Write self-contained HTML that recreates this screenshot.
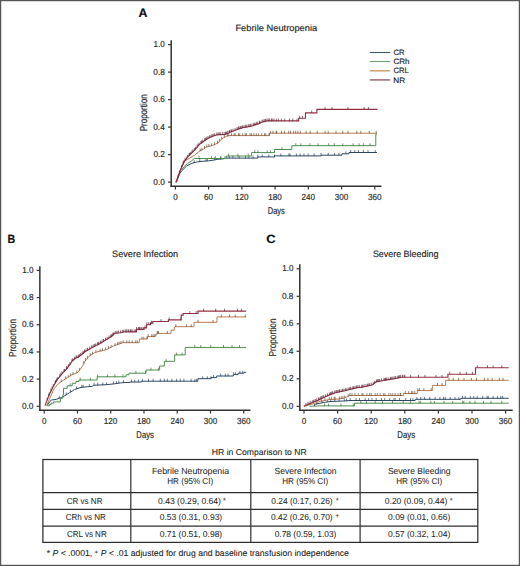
<!DOCTYPE html>
<html><head><meta charset="utf-8"><style>
html,body{margin:0;padding:0;background:#fff;}
svg{display:block;font-family:"Liberation Sans", sans-serif;text-rendering:geometricPrecision;}

</style></head><body>
<svg width="520" height="566" viewBox="0 0 520 566" text-rendering="geometricPrecision">
<rect width="520" height="566" fill="#fff"/>
<rect x="0.6" y="0.6" width="518.8" height="564.8" fill="none" stroke="#555" stroke-width="1.25"/>
<text x="138.49" y="17.10" font-size="12.21" font-weight="bold" fill="#111" stroke="#111" stroke-width="0.18" textLength="8.93" lengthAdjust="spacingAndGlyphs">A</text>
<text x="235.44" y="31.20" font-size="9.01" fill="#2a2a2a" stroke="#2a2a2a" stroke-width="0.18" textLength="81.76" lengthAdjust="spacingAndGlyphs">Febrile Neutropenia</text>
<line x1="171.20" y1="40.20" x2="171.20" y2="186.95" stroke="#333" stroke-width="1.5"/>
<line x1="170.45" y1="186.20" x2="381.50" y2="186.20" stroke="#333" stroke-width="1.5"/>
<line x1="168.00" y1="182.10" x2="171.20" y2="182.10" stroke="#333" stroke-width="1.2"/>
<text x="153.31" y="184.65" font-size="8.72" fill="#2e2e2e" stroke="#2e2e2e" stroke-width="0.18" textLength="11.52" lengthAdjust="spacingAndGlyphs">0.0</text>
<line x1="168.00" y1="154.60" x2="171.20" y2="154.60" stroke="#333" stroke-width="1.2"/>
<text x="153.40" y="157.15" font-size="8.72" fill="#2e2e2e" stroke="#2e2e2e" stroke-width="0.18" textLength="11.52" lengthAdjust="spacingAndGlyphs">0.2</text>
<line x1="168.00" y1="127.10" x2="171.20" y2="127.10" stroke="#333" stroke-width="1.2"/>
<text x="153.23" y="129.65" font-size="8.72" fill="#2e2e2e" stroke="#2e2e2e" stroke-width="0.18" textLength="11.52" lengthAdjust="spacingAndGlyphs">0.4</text>
<line x1="168.00" y1="99.60" x2="171.20" y2="99.60" stroke="#333" stroke-width="1.2"/>
<text x="153.35" y="102.15" font-size="8.72" fill="#2e2e2e" stroke="#2e2e2e" stroke-width="0.18" textLength="11.52" lengthAdjust="spacingAndGlyphs">0.6</text>
<line x1="168.00" y1="72.10" x2="171.20" y2="72.10" stroke="#333" stroke-width="1.2"/>
<text x="153.34" y="74.65" font-size="8.72" fill="#2e2e2e" stroke="#2e2e2e" stroke-width="0.18" textLength="11.52" lengthAdjust="spacingAndGlyphs">0.8</text>
<line x1="168.00" y1="44.60" x2="171.20" y2="44.60" stroke="#333" stroke-width="1.2"/>
<text x="153.54" y="47.15" font-size="8.72" fill="#2e2e2e" stroke="#2e2e2e" stroke-width="0.18" textLength="11.27" lengthAdjust="spacingAndGlyphs">1.0</text>
<line x1="175.40" y1="186.20" x2="175.40" y2="189.40" stroke="#333" stroke-width="1.2"/>
<text x="173.14" y="199.70" font-size="8.72" fill="#2e2e2e" stroke="#2e2e2e" stroke-width="0.18" textLength="4.51" lengthAdjust="spacingAndGlyphs">0</text>
<line x1="208.63" y1="186.20" x2="208.63" y2="189.40" stroke="#333" stroke-width="1.2"/>
<text x="204.08" y="199.70" font-size="8.72" fill="#2e2e2e" stroke="#2e2e2e" stroke-width="0.18" textLength="9.02" lengthAdjust="spacingAndGlyphs">60</text>
<line x1="241.87" y1="186.20" x2="241.87" y2="189.40" stroke="#333" stroke-width="1.2"/>
<text x="234.95" y="199.70" font-size="8.72" fill="#2e2e2e" stroke="#2e2e2e" stroke-width="0.18" textLength="13.53" lengthAdjust="spacingAndGlyphs">120</text>
<line x1="275.10" y1="186.20" x2="275.10" y2="189.40" stroke="#333" stroke-width="1.2"/>
<text x="268.18" y="199.70" font-size="8.72" fill="#2e2e2e" stroke="#2e2e2e" stroke-width="0.18" textLength="13.53" lengthAdjust="spacingAndGlyphs">180</text>
<line x1="308.33" y1="186.20" x2="308.33" y2="189.40" stroke="#333" stroke-width="1.2"/>
<text x="301.52" y="199.70" font-size="8.72" fill="#2e2e2e" stroke="#2e2e2e" stroke-width="0.18" textLength="13.53" lengthAdjust="spacingAndGlyphs">240</text>
<line x1="341.57" y1="186.20" x2="341.57" y2="189.40" stroke="#333" stroke-width="1.2"/>
<text x="334.80" y="199.70" font-size="8.72" fill="#2e2e2e" stroke="#2e2e2e" stroke-width="0.18" textLength="13.53" lengthAdjust="spacingAndGlyphs">300</text>
<line x1="374.80" y1="186.20" x2="374.80" y2="189.40" stroke="#333" stroke-width="1.2"/>
<text x="368.04" y="199.70" font-size="8.72" fill="#2e2e2e" stroke="#2e2e2e" stroke-width="0.18" textLength="13.53" lengthAdjust="spacingAndGlyphs">360</text>
<text transform="translate(146.70,131.36) rotate(-90)" x="0" y="0" font-size="10.17" fill="#2a2a2a" stroke="#2a2a2a" stroke-width="0.18" textLength="37.08" lengthAdjust="spacingAndGlyphs">Proportion</text>
<text x="267.79" y="213.60" font-size="9.74" fill="#2a2a2a" stroke="#2a2a2a" stroke-width="0.18" textLength="16.98" lengthAdjust="spacingAndGlyphs">Days</text>
<line x1="369.80" y1="52.50" x2="390.20" y2="52.50" stroke="#3a5a72" stroke-width="1.1"/>
<line x1="369.80" y1="61.50" x2="390.20" y2="61.50" stroke="#74a074" stroke-width="1.1"/>
<line x1="369.80" y1="70.80" x2="390.20" y2="70.80" stroke="#c49a64" stroke-width="1.4"/>
<line x1="369.80" y1="79.90" x2="390.20" y2="79.90" stroke="#a8707c" stroke-width="1.6"/>
<text x="393.51" y="54.95" font-size="7.85" fill="#2a2a2a" stroke="#2a2a2a" stroke-width="0.18" textLength="11.04" lengthAdjust="spacingAndGlyphs">CR</text>
<text x="393.49" y="64.15" font-size="7.85" fill="#2a2a2a" stroke="#2a2a2a" stroke-width="0.18" textLength="16.03" lengthAdjust="spacingAndGlyphs">CRh</text>
<text x="393.51" y="73.35" font-size="7.85" fill="#2a2a2a" stroke="#2a2a2a" stroke-width="0.18" textLength="15.24" lengthAdjust="spacingAndGlyphs">CRL</text>
<text x="393.23" y="82.55" font-size="7.85" fill="#2a2a2a" stroke="#2a2a2a" stroke-width="0.18" textLength="11.85" lengthAdjust="spacingAndGlyphs">NR</text>
<path d="M176.5,182.3 L179.5,174.0 L181.7,170.8 L186.6,166.0 L191.4,163.5 L196.3,162.1 L200.0,161.5 L208.8,160.8 L213.2,160.2 L217.7,159.3 L223.0,158.9 L226.5,158.1 L257.8,158.1 L257.8,156.9 L274.5,156.9 L274.5,155.9 L321.0,155.9 L321.0,155.2 L342.0,155.2 L342.0,153.8 L349.0,153.8 L349.0,152.5 L377.0,152.5" fill="none" stroke="#2c4a66" stroke-width="1.0" stroke-linejoin="miter"/>
<line x1="194.2" y1="160.3" x2="194.2" y2="163.0" stroke="#2a3f5a" stroke-width="0.7"/>
<line x1="199.8" y1="159.1" x2="199.8" y2="161.8" stroke="#2a3f5a" stroke-width="0.7"/>
<line x1="206.0" y1="158.6" x2="206.0" y2="161.3" stroke="#2a3f5a" stroke-width="0.7"/>
<line x1="207.4" y1="158.5" x2="207.4" y2="161.2" stroke="#2a3f5a" stroke-width="0.7"/>
<line x1="214.5" y1="157.5" x2="214.5" y2="160.2" stroke="#2a3f5a" stroke-width="0.7"/>
<line x1="220.6" y1="156.7" x2="220.6" y2="159.4" stroke="#2a3f5a" stroke-width="0.7"/>
<line x1="225.0" y1="156.0" x2="225.0" y2="158.7" stroke="#2a3f5a" stroke-width="0.7"/>
<line x1="229.3" y1="155.7" x2="229.3" y2="158.4" stroke="#2a3f5a" stroke-width="0.7"/>
<line x1="232.9" y1="155.7" x2="232.9" y2="158.4" stroke="#2a3f5a" stroke-width="0.7"/>
<line x1="239.1" y1="155.7" x2="239.1" y2="158.4" stroke="#2a3f5a" stroke-width="0.7"/>
<line x1="245.5" y1="155.7" x2="245.5" y2="158.4" stroke="#2a3f5a" stroke-width="0.7"/>
<line x1="249.0" y1="155.7" x2="249.0" y2="158.4" stroke="#2a3f5a" stroke-width="0.7"/>
<line x1="253.0" y1="155.7" x2="253.0" y2="158.4" stroke="#2a3f5a" stroke-width="0.7"/>
<line x1="257.8" y1="154.5" x2="257.8" y2="157.2" stroke="#2a3f5a" stroke-width="0.7"/>
<line x1="262.3" y1="154.5" x2="262.3" y2="157.2" stroke="#2a3f5a" stroke-width="0.7"/>
<line x1="268.8" y1="154.5" x2="268.8" y2="157.2" stroke="#2a3f5a" stroke-width="0.7"/>
<line x1="274.5" y1="154.5" x2="274.5" y2="157.2" stroke="#2a3f5a" stroke-width="0.7"/>
<line x1="280.8" y1="153.5" x2="280.8" y2="156.2" stroke="#2a3f5a" stroke-width="0.7"/>
<line x1="288.9" y1="153.5" x2="288.9" y2="156.2" stroke="#2a3f5a" stroke-width="0.7"/>
<line x1="290.0" y1="153.5" x2="290.0" y2="156.2" stroke="#2a3f5a" stroke-width="0.7"/>
<line x1="296.4" y1="153.5" x2="296.4" y2="156.2" stroke="#2a3f5a" stroke-width="0.7"/>
<line x1="300.1" y1="153.5" x2="300.1" y2="156.2" stroke="#2a3f5a" stroke-width="0.7"/>
<line x1="304.0" y1="153.5" x2="304.0" y2="156.2" stroke="#2a3f5a" stroke-width="0.7"/>
<line x1="308.1" y1="153.5" x2="308.1" y2="156.2" stroke="#2a3f5a" stroke-width="0.7"/>
<line x1="314.1" y1="153.5" x2="314.1" y2="156.2" stroke="#2a3f5a" stroke-width="0.7"/>
<line x1="321.0" y1="152.8" x2="321.0" y2="155.5" stroke="#2a3f5a" stroke-width="0.7"/>
<line x1="328.2" y1="152.8" x2="328.2" y2="155.5" stroke="#2a3f5a" stroke-width="0.7"/>
<line x1="334.6" y1="152.8" x2="334.6" y2="155.5" stroke="#2a3f5a" stroke-width="0.7"/>
<line x1="338.9" y1="152.8" x2="338.9" y2="155.5" stroke="#2a3f5a" stroke-width="0.7"/>
<line x1="345.9" y1="151.4" x2="345.9" y2="154.1" stroke="#2a3f5a" stroke-width="0.7"/>
<line x1="350.6" y1="150.1" x2="350.6" y2="152.8" stroke="#2a3f5a" stroke-width="0.7"/>
<line x1="354.8" y1="150.1" x2="354.8" y2="152.8" stroke="#2a3f5a" stroke-width="0.7"/>
<line x1="358.4" y1="150.1" x2="358.4" y2="152.8" stroke="#2a3f5a" stroke-width="0.7"/>
<line x1="363.4" y1="150.1" x2="363.4" y2="152.8" stroke="#2a3f5a" stroke-width="0.7"/>
<line x1="368.0" y1="150.1" x2="368.0" y2="152.8" stroke="#2a3f5a" stroke-width="0.7"/>
<line x1="375.2" y1="150.1" x2="375.2" y2="152.8" stroke="#2a3f5a" stroke-width="0.7"/>
<path d="M176.5,182.3 L179.8,171.8 L183.7,166.9 L187.6,163.5 L191.4,161.1 L194.2,158.5 L226.5,158.5 L226.5,156.0 L251.6,156.0 L251.6,152.6 L274.5,152.6 L274.5,149.5 L291.8,149.5 L291.8,145.7 L375.8,145.7 L375.8,134.2 L377.0,134.2" fill="none" stroke="#4f8f4f" stroke-width="1.0" stroke-linejoin="miter"/>
<line x1="199.0" y1="156.1" x2="199.0" y2="158.8" stroke="#3d6a3d" stroke-width="0.7"/>
<line x1="211.5" y1="156.1" x2="211.5" y2="158.8" stroke="#3d6a3d" stroke-width="0.7"/>
<line x1="215.4" y1="156.1" x2="215.4" y2="158.8" stroke="#3d6a3d" stroke-width="0.7"/>
<line x1="220.9" y1="156.1" x2="220.9" y2="158.8" stroke="#3d6a3d" stroke-width="0.7"/>
<line x1="228.6" y1="153.6" x2="228.6" y2="156.3" stroke="#3d6a3d" stroke-width="0.7"/>
<line x1="237.9" y1="153.6" x2="237.9" y2="156.3" stroke="#3d6a3d" stroke-width="0.7"/>
<line x1="248.2" y1="153.6" x2="248.2" y2="156.3" stroke="#3d6a3d" stroke-width="0.7"/>
<line x1="254.8" y1="150.2" x2="254.8" y2="152.9" stroke="#3d6a3d" stroke-width="0.7"/>
<line x1="257.9" y1="150.2" x2="257.9" y2="152.9" stroke="#3d6a3d" stroke-width="0.7"/>
<line x1="267.3" y1="150.2" x2="267.3" y2="152.9" stroke="#3d6a3d" stroke-width="0.7"/>
<line x1="270.4" y1="150.2" x2="270.4" y2="152.9" stroke="#3d6a3d" stroke-width="0.7"/>
<line x1="282.0" y1="147.1" x2="282.0" y2="149.8" stroke="#3d6a3d" stroke-width="0.7"/>
<line x1="295.8" y1="143.3" x2="295.8" y2="146.0" stroke="#3d6a3d" stroke-width="0.7"/>
<line x1="300.9" y1="143.3" x2="300.9" y2="146.0" stroke="#3d6a3d" stroke-width="0.7"/>
<line x1="309.9" y1="143.3" x2="309.9" y2="146.0" stroke="#3d6a3d" stroke-width="0.7"/>
<line x1="318.1" y1="143.3" x2="318.1" y2="146.0" stroke="#3d6a3d" stroke-width="0.7"/>
<line x1="328.7" y1="143.3" x2="328.7" y2="146.0" stroke="#3d6a3d" stroke-width="0.7"/>
<line x1="334.3" y1="143.3" x2="334.3" y2="146.0" stroke="#3d6a3d" stroke-width="0.7"/>
<line x1="342.8" y1="143.3" x2="342.8" y2="146.0" stroke="#3d6a3d" stroke-width="0.7"/>
<line x1="353.1" y1="143.3" x2="353.1" y2="146.0" stroke="#3d6a3d" stroke-width="0.7"/>
<line x1="359.1" y1="143.3" x2="359.1" y2="146.0" stroke="#3d6a3d" stroke-width="0.7"/>
<line x1="363.4" y1="143.3" x2="363.4" y2="146.0" stroke="#3d6a3d" stroke-width="0.7"/>
<line x1="370.0" y1="143.3" x2="370.0" y2="146.0" stroke="#3d6a3d" stroke-width="0.7"/>
<path d="M175.8,182.3 L177.8,177.6 L179.8,171.8 L181.7,166.9 L184.6,161.1 L189.5,158.2 L194.4,155.3 L199.2,151.4 L203.1,149.4 L205.8,147.2 L212.7,145.4 L218.0,143.0 L220.4,140.0 L223.5,137.7 L226.5,136.2 L230.0,135.6 L269.5,135.6 L269.5,133.2 L377.0,133.2" fill="none" stroke="#b87c52" stroke-width="1.0" stroke-linejoin="miter"/>
<line x1="200.2" y1="148.5" x2="200.2" y2="151.2" stroke="#6a4a35" stroke-width="0.7"/>
<line x1="201.9" y1="147.6" x2="201.9" y2="150.3" stroke="#6a4a35" stroke-width="0.7"/>
<line x1="204.5" y1="145.9" x2="204.5" y2="148.6" stroke="#6a4a35" stroke-width="0.7"/>
<line x1="206.8" y1="144.5" x2="206.8" y2="147.2" stroke="#6a4a35" stroke-width="0.7"/>
<line x1="208.9" y1="144.0" x2="208.9" y2="146.7" stroke="#6a4a35" stroke-width="0.7"/>
<line x1="211.6" y1="143.3" x2="211.6" y2="146.0" stroke="#6a4a35" stroke-width="0.7"/>
<line x1="214.5" y1="142.2" x2="214.5" y2="144.9" stroke="#6a4a35" stroke-width="0.7"/>
<line x1="217.5" y1="140.8" x2="217.5" y2="143.5" stroke="#6a4a35" stroke-width="0.7"/>
<line x1="219.4" y1="138.9" x2="219.4" y2="141.6" stroke="#6a4a35" stroke-width="0.7"/>
<line x1="221.6" y1="136.7" x2="221.6" y2="139.4" stroke="#6a4a35" stroke-width="0.7"/>
<line x1="224.3" y1="134.9" x2="224.3" y2="137.6" stroke="#6a4a35" stroke-width="0.7"/>
<line x1="227.4" y1="133.7" x2="227.4" y2="136.4" stroke="#6a4a35" stroke-width="0.7"/>
<line x1="228.7" y1="133.4" x2="228.7" y2="136.1" stroke="#6a4a35" stroke-width="0.7"/>
<line x1="231.4" y1="133.2" x2="231.4" y2="135.9" stroke="#6a4a35" stroke-width="0.7"/>
<line x1="234.1" y1="133.2" x2="234.1" y2="135.9" stroke="#6a4a35" stroke-width="0.7"/>
<line x1="235.2" y1="133.2" x2="235.2" y2="135.9" stroke="#6a4a35" stroke-width="0.7"/>
<line x1="238.5" y1="133.2" x2="238.5" y2="135.9" stroke="#6a4a35" stroke-width="0.7"/>
<line x1="239.7" y1="133.2" x2="239.7" y2="135.9" stroke="#6a4a35" stroke-width="0.7"/>
<line x1="242.7" y1="133.2" x2="242.7" y2="135.9" stroke="#6a4a35" stroke-width="0.7"/>
<line x1="245.2" y1="133.2" x2="245.2" y2="135.9" stroke="#6a4a35" stroke-width="0.7"/>
<line x1="246.3" y1="133.2" x2="246.3" y2="135.9" stroke="#6a4a35" stroke-width="0.7"/>
<line x1="250.1" y1="133.2" x2="250.1" y2="135.9" stroke="#6a4a35" stroke-width="0.7"/>
<line x1="251.6" y1="133.2" x2="251.6" y2="135.9" stroke="#6a4a35" stroke-width="0.7"/>
<line x1="253.9" y1="133.2" x2="253.9" y2="135.9" stroke="#6a4a35" stroke-width="0.7"/>
<line x1="256.3" y1="133.2" x2="256.3" y2="135.9" stroke="#6a4a35" stroke-width="0.7"/>
<line x1="258.6" y1="133.2" x2="258.6" y2="135.9" stroke="#6a4a35" stroke-width="0.7"/>
<line x1="261.7" y1="133.2" x2="261.7" y2="135.9" stroke="#6a4a35" stroke-width="0.7"/>
<line x1="264.6" y1="133.2" x2="264.6" y2="135.9" stroke="#6a4a35" stroke-width="0.7"/>
<line x1="265.8" y1="133.2" x2="265.8" y2="135.9" stroke="#6a4a35" stroke-width="0.7"/>
<line x1="269.0" y1="133.2" x2="269.0" y2="135.9" stroke="#6a4a35" stroke-width="0.7"/>
<line x1="270.4" y1="130.8" x2="270.4" y2="133.5" stroke="#6a4a35" stroke-width="0.7"/>
<line x1="273.0" y1="130.8" x2="273.0" y2="133.5" stroke="#6a4a35" stroke-width="0.7"/>
<line x1="276.2" y1="130.8" x2="276.2" y2="133.5" stroke="#6a4a35" stroke-width="0.7"/>
<line x1="276.6" y1="130.8" x2="276.6" y2="133.5" stroke="#6a4a35" stroke-width="0.7"/>
<line x1="281.5" y1="130.8" x2="281.5" y2="133.5" stroke="#6a4a35" stroke-width="0.7"/>
<line x1="284.4" y1="130.8" x2="284.4" y2="133.5" stroke="#6a4a35" stroke-width="0.7"/>
<line x1="288.7" y1="130.8" x2="288.7" y2="133.5" stroke="#6a4a35" stroke-width="0.7"/>
<line x1="290.5" y1="130.8" x2="290.5" y2="133.5" stroke="#6a4a35" stroke-width="0.7"/>
<line x1="293.7" y1="130.8" x2="293.7" y2="133.5" stroke="#6a4a35" stroke-width="0.7"/>
<line x1="295.7" y1="130.8" x2="295.7" y2="133.5" stroke="#6a4a35" stroke-width="0.7"/>
<line x1="297.9" y1="130.8" x2="297.9" y2="133.5" stroke="#6a4a35" stroke-width="0.7"/>
<line x1="300.3" y1="130.8" x2="300.3" y2="133.5" stroke="#6a4a35" stroke-width="0.7"/>
<line x1="306.1" y1="130.8" x2="306.1" y2="133.5" stroke="#6a4a35" stroke-width="0.7"/>
<line x1="310.2" y1="130.8" x2="310.2" y2="133.5" stroke="#6a4a35" stroke-width="0.7"/>
<line x1="317.2" y1="130.8" x2="317.2" y2="133.5" stroke="#6a4a35" stroke-width="0.7"/>
<line x1="325.1" y1="130.8" x2="325.1" y2="133.5" stroke="#6a4a35" stroke-width="0.7"/>
<line x1="328.2" y1="130.8" x2="328.2" y2="133.5" stroke="#6a4a35" stroke-width="0.7"/>
<line x1="336.0" y1="130.8" x2="336.0" y2="133.5" stroke="#6a4a35" stroke-width="0.7"/>
<line x1="342.8" y1="130.8" x2="342.8" y2="133.5" stroke="#6a4a35" stroke-width="0.7"/>
<line x1="348.0" y1="130.8" x2="348.0" y2="133.5" stroke="#6a4a35" stroke-width="0.7"/>
<line x1="356.8" y1="130.8" x2="356.8" y2="133.5" stroke="#6a4a35" stroke-width="0.7"/>
<line x1="360.8" y1="130.8" x2="360.8" y2="133.5" stroke="#6a4a35" stroke-width="0.7"/>
<line x1="369.3" y1="130.8" x2="369.3" y2="133.5" stroke="#6a4a35" stroke-width="0.7"/>
<line x1="376.2" y1="130.8" x2="376.2" y2="133.5" stroke="#6a4a35" stroke-width="0.7"/>
<path d="M175.8,182.3 L177.8,177.6 L179.8,171.8 L181.7,166.9 L184.6,161.1 L187.6,157.2 L191.4,153.3 L195.3,149.4 L199.2,144.6 L203.1,141.7 L205.8,139.8 L208.8,138.0 L212.7,136.2 L216.5,135.0 L220.4,134.6 L225.0,134.4 L228.5,133.0 L231.9,131.5 L235.8,130.0 L239.6,128.6 L243.5,127.5 L246.2,127.1 L251.9,126.0 L255.0,124.9 L259.0,123.6 L261.7,122.2 L265.1,121.5 L267.1,120.9 L298.7,120.9 L298.7,118.2 L305.5,118.2 L305.5,112.8 L316.9,112.8 L316.9,109.4 L377.6,109.4" fill="none" stroke="#962f45" stroke-width="1.15" stroke-linejoin="miter"/>
<line x1="178.0" y1="174.5" x2="178.0" y2="177.2" stroke="#5a2a38" stroke-width="0.7"/>
<line x1="179.4" y1="170.6" x2="179.4" y2="173.3" stroke="#5a2a38" stroke-width="0.7"/>
<line x1="181.6" y1="164.9" x2="181.6" y2="167.6" stroke="#5a2a38" stroke-width="0.7"/>
<line x1="183.1" y1="161.7" x2="183.1" y2="164.4" stroke="#5a2a38" stroke-width="0.7"/>
<line x1="183.7" y1="160.4" x2="183.7" y2="163.1" stroke="#5a2a38" stroke-width="0.7"/>
<line x1="185.0" y1="158.2" x2="185.0" y2="160.9" stroke="#5a2a38" stroke-width="0.7"/>
<line x1="186.2" y1="156.6" x2="186.2" y2="159.3" stroke="#5a2a38" stroke-width="0.7"/>
<line x1="187.6" y1="154.8" x2="187.6" y2="157.5" stroke="#5a2a38" stroke-width="0.7"/>
<line x1="189.2" y1="153.2" x2="189.2" y2="155.9" stroke="#5a2a38" stroke-width="0.7"/>
<line x1="189.4" y1="152.9" x2="189.4" y2="155.6" stroke="#5a2a38" stroke-width="0.7"/>
<line x1="190.4" y1="151.9" x2="190.4" y2="154.6" stroke="#5a2a38" stroke-width="0.7"/>
<line x1="191.9" y1="150.4" x2="191.9" y2="153.1" stroke="#5a2a38" stroke-width="0.7"/>
<line x1="192.9" y1="149.4" x2="192.9" y2="152.1" stroke="#5a2a38" stroke-width="0.7"/>
<line x1="194.4" y1="147.9" x2="194.4" y2="150.6" stroke="#5a2a38" stroke-width="0.7"/>
<line x1="195.5" y1="146.8" x2="195.5" y2="149.5" stroke="#5a2a38" stroke-width="0.7"/>
<line x1="197.1" y1="144.8" x2="197.1" y2="147.5" stroke="#5a2a38" stroke-width="0.7"/>
<line x1="198.0" y1="143.7" x2="198.0" y2="146.4" stroke="#5a2a38" stroke-width="0.7"/>
<line x1="199.0" y1="142.4" x2="199.0" y2="145.1" stroke="#5a2a38" stroke-width="0.7"/>
<line x1="200.9" y1="141.0" x2="200.9" y2="143.7" stroke="#5a2a38" stroke-width="0.7"/>
<line x1="201.5" y1="140.5" x2="201.5" y2="143.2" stroke="#5a2a38" stroke-width="0.7"/>
<line x1="202.7" y1="139.6" x2="202.7" y2="142.3" stroke="#5a2a38" stroke-width="0.7"/>
<line x1="204.5" y1="138.3" x2="204.5" y2="141.0" stroke="#5a2a38" stroke-width="0.7"/>
<line x1="205.6" y1="137.5" x2="205.6" y2="140.2" stroke="#5a2a38" stroke-width="0.7"/>
<line x1="206.8" y1="136.8" x2="206.8" y2="139.5" stroke="#5a2a38" stroke-width="0.7"/>
<line x1="208.0" y1="136.1" x2="208.0" y2="138.8" stroke="#5a2a38" stroke-width="0.7"/>
<line x1="209.5" y1="135.3" x2="209.5" y2="138.0" stroke="#5a2a38" stroke-width="0.7"/>
<line x1="211.0" y1="134.6" x2="211.0" y2="137.3" stroke="#5a2a38" stroke-width="0.7"/>
<line x1="212.1" y1="134.1" x2="212.1" y2="136.8" stroke="#5a2a38" stroke-width="0.7"/>
<line x1="213.2" y1="133.6" x2="213.2" y2="136.3" stroke="#5a2a38" stroke-width="0.7"/>
<line x1="214.7" y1="133.2" x2="214.7" y2="135.9" stroke="#5a2a38" stroke-width="0.7"/>
<line x1="216.8" y1="132.6" x2="216.8" y2="135.3" stroke="#5a2a38" stroke-width="0.7"/>
<line x1="218.0" y1="132.5" x2="218.0" y2="135.2" stroke="#5a2a38" stroke-width="0.7"/>
<line x1="219.1" y1="132.3" x2="219.1" y2="135.0" stroke="#5a2a38" stroke-width="0.7"/>
<line x1="220.2" y1="132.2" x2="220.2" y2="134.9" stroke="#5a2a38" stroke-width="0.7"/>
<line x1="222.3" y1="132.1" x2="222.3" y2="134.8" stroke="#5a2a38" stroke-width="0.7"/>
<line x1="224.1" y1="132.0" x2="224.1" y2="134.7" stroke="#5a2a38" stroke-width="0.7"/>
<line x1="225.5" y1="131.8" x2="225.5" y2="134.5" stroke="#5a2a38" stroke-width="0.7"/>
<line x1="226.4" y1="131.5" x2="226.4" y2="134.2" stroke="#5a2a38" stroke-width="0.7"/>
<line x1="227.7" y1="130.9" x2="227.7" y2="133.6" stroke="#5a2a38" stroke-width="0.7"/>
<line x1="229.2" y1="130.3" x2="229.2" y2="133.0" stroke="#5a2a38" stroke-width="0.7"/>
<line x1="229.5" y1="130.2" x2="229.5" y2="132.9" stroke="#5a2a38" stroke-width="0.7"/>
<line x1="231.0" y1="129.5" x2="231.0" y2="132.2" stroke="#5a2a38" stroke-width="0.7"/>
<line x1="231.3" y1="129.4" x2="231.3" y2="132.1" stroke="#5a2a38" stroke-width="0.7"/>
<line x1="233.0" y1="128.7" x2="233.0" y2="131.4" stroke="#5a2a38" stroke-width="0.7"/>
<line x1="235.1" y1="127.9" x2="235.1" y2="130.6" stroke="#5a2a38" stroke-width="0.7"/>
<line x1="237.0" y1="127.2" x2="237.0" y2="129.9" stroke="#5a2a38" stroke-width="0.7"/>
<line x1="238.3" y1="126.7" x2="238.3" y2="129.4" stroke="#5a2a38" stroke-width="0.7"/>
<line x1="239.0" y1="126.4" x2="239.0" y2="129.1" stroke="#5a2a38" stroke-width="0.7"/>
<line x1="240.3" y1="126.0" x2="240.3" y2="128.7" stroke="#5a2a38" stroke-width="0.7"/>
<line x1="241.2" y1="125.7" x2="241.2" y2="128.4" stroke="#5a2a38" stroke-width="0.7"/>
<line x1="242.5" y1="125.4" x2="242.5" y2="128.1" stroke="#5a2a38" stroke-width="0.7"/>
<line x1="244.0" y1="125.0" x2="244.0" y2="127.7" stroke="#5a2a38" stroke-width="0.7"/>
<line x1="245.4" y1="124.8" x2="245.4" y2="127.5" stroke="#5a2a38" stroke-width="0.7"/>
<line x1="246.3" y1="124.7" x2="246.3" y2="127.4" stroke="#5a2a38" stroke-width="0.7"/>
<line x1="248.1" y1="124.3" x2="248.1" y2="127.0" stroke="#5a2a38" stroke-width="0.7"/>
<line x1="249.0" y1="124.2" x2="249.0" y2="126.9" stroke="#5a2a38" stroke-width="0.7"/>
<line x1="250.2" y1="123.9" x2="250.2" y2="126.6" stroke="#5a2a38" stroke-width="0.7"/>
<line x1="251.2" y1="123.7" x2="251.2" y2="126.4" stroke="#5a2a38" stroke-width="0.7"/>
<line x1="253.2" y1="123.1" x2="253.2" y2="125.8" stroke="#5a2a38" stroke-width="0.7"/>
<line x1="254.2" y1="122.8" x2="254.2" y2="125.5" stroke="#5a2a38" stroke-width="0.7"/>
<line x1="255.1" y1="122.5" x2="255.1" y2="125.2" stroke="#5a2a38" stroke-width="0.7"/>
<line x1="256.7" y1="121.9" x2="256.7" y2="124.6" stroke="#5a2a38" stroke-width="0.7"/>
<line x1="257.9" y1="121.6" x2="257.9" y2="124.3" stroke="#5a2a38" stroke-width="0.7"/>
<line x1="259.6" y1="120.9" x2="259.6" y2="123.6" stroke="#5a2a38" stroke-width="0.7"/>
<line x1="259.9" y1="120.7" x2="259.9" y2="123.4" stroke="#5a2a38" stroke-width="0.7"/>
<line x1="262.1" y1="119.7" x2="262.1" y2="122.4" stroke="#5a2a38" stroke-width="0.7"/>
<line x1="263.1" y1="119.5" x2="263.1" y2="122.2" stroke="#5a2a38" stroke-width="0.7"/>
<line x1="264.4" y1="119.2" x2="264.4" y2="121.9" stroke="#5a2a38" stroke-width="0.7"/>
<line x1="265.5" y1="119.0" x2="265.5" y2="121.7" stroke="#5a2a38" stroke-width="0.7"/>
<line x1="267.0" y1="118.5" x2="267.0" y2="121.2" stroke="#5a2a38" stroke-width="0.7"/>
<line x1="268.3" y1="118.5" x2="268.3" y2="121.2" stroke="#5a2a38" stroke-width="0.7"/>
<line x1="269.7" y1="118.5" x2="269.7" y2="121.2" stroke="#5a2a38" stroke-width="0.7"/>
<line x1="271.4" y1="118.5" x2="271.4" y2="121.2" stroke="#5a2a38" stroke-width="0.7"/>
<line x1="272.2" y1="118.5" x2="272.2" y2="121.2" stroke="#5a2a38" stroke-width="0.7"/>
<line x1="273.9" y1="118.5" x2="273.9" y2="121.2" stroke="#5a2a38" stroke-width="0.7"/>
<line x1="276.3" y1="118.5" x2="276.3" y2="121.2" stroke="#5a2a38" stroke-width="0.7"/>
<line x1="278.4" y1="118.5" x2="278.4" y2="121.2" stroke="#5a2a38" stroke-width="0.7"/>
<line x1="281.4" y1="118.5" x2="281.4" y2="121.2" stroke="#5a2a38" stroke-width="0.7"/>
<line x1="284.7" y1="118.5" x2="284.7" y2="121.2" stroke="#5a2a38" stroke-width="0.7"/>
<line x1="289.5" y1="118.5" x2="289.5" y2="121.2" stroke="#5a2a38" stroke-width="0.7"/>
<line x1="292.7" y1="118.5" x2="292.7" y2="121.2" stroke="#5a2a38" stroke-width="0.7"/>
<line x1="297.1" y1="118.5" x2="297.1" y2="121.2" stroke="#5a2a38" stroke-width="0.7"/>
<line x1="299.7" y1="115.8" x2="299.7" y2="118.5" stroke="#5a2a38" stroke-width="0.7"/>
<line x1="302.4" y1="115.8" x2="302.4" y2="118.5" stroke="#5a2a38" stroke-width="0.7"/>
<line x1="311.7" y1="110.4" x2="311.7" y2="113.1" stroke="#5a2a38" stroke-width="0.7"/>
<line x1="325.0" y1="107.0" x2="325.0" y2="109.7" stroke="#5a2a38" stroke-width="0.7"/>
<line x1="332.0" y1="107.0" x2="332.0" y2="109.7" stroke="#5a2a38" stroke-width="0.7"/>
<line x1="347.9" y1="107.0" x2="347.9" y2="109.7" stroke="#5a2a38" stroke-width="0.7"/>
<line x1="364.1" y1="107.0" x2="364.1" y2="109.7" stroke="#5a2a38" stroke-width="0.7"/>
<line x1="368.4" y1="107.0" x2="368.4" y2="109.7" stroke="#5a2a38" stroke-width="0.7"/>
<text x="7.59" y="242.70" font-size="11.92" font-weight="bold" fill="#111" stroke="#111" stroke-width="0.18" textLength="7.70" lengthAdjust="spacingAndGlyphs">B</text>
<text x="112.09" y="257.30" font-size="9.16" fill="#2a2a2a" stroke="#2a2a2a" stroke-width="0.18" textLength="66.01" lengthAdjust="spacingAndGlyphs">Severe Infection</text>
<line x1="39.85" y1="266.20" x2="39.85" y2="411.05" stroke="#333" stroke-width="1.5"/>
<line x1="39.10" y1="410.30" x2="250.50" y2="410.30" stroke="#333" stroke-width="1.5"/>
<line x1="36.65" y1="406.30" x2="39.85" y2="406.30" stroke="#333" stroke-width="1.2"/>
<text x="21.96" y="408.85" font-size="8.72" fill="#2e2e2e" stroke="#2e2e2e" stroke-width="0.18" textLength="11.52" lengthAdjust="spacingAndGlyphs">0.0</text>
<line x1="36.65" y1="379.12" x2="39.85" y2="379.12" stroke="#333" stroke-width="1.2"/>
<text x="22.05" y="381.67" font-size="8.72" fill="#2e2e2e" stroke="#2e2e2e" stroke-width="0.18" textLength="11.52" lengthAdjust="spacingAndGlyphs">0.2</text>
<line x1="36.65" y1="351.94" x2="39.85" y2="351.94" stroke="#333" stroke-width="1.2"/>
<text x="21.88" y="354.49" font-size="8.72" fill="#2e2e2e" stroke="#2e2e2e" stroke-width="0.18" textLength="11.52" lengthAdjust="spacingAndGlyphs">0.4</text>
<line x1="36.65" y1="324.76" x2="39.85" y2="324.76" stroke="#333" stroke-width="1.2"/>
<text x="22.00" y="327.31" font-size="8.72" fill="#2e2e2e" stroke="#2e2e2e" stroke-width="0.18" textLength="11.52" lengthAdjust="spacingAndGlyphs">0.6</text>
<line x1="36.65" y1="297.58" x2="39.85" y2="297.58" stroke="#333" stroke-width="1.2"/>
<text x="21.99" y="300.13" font-size="8.72" fill="#2e2e2e" stroke="#2e2e2e" stroke-width="0.18" textLength="11.52" lengthAdjust="spacingAndGlyphs">0.8</text>
<line x1="36.65" y1="270.40" x2="39.85" y2="270.40" stroke="#333" stroke-width="1.2"/>
<text x="22.19" y="272.95" font-size="8.72" fill="#2e2e2e" stroke="#2e2e2e" stroke-width="0.18" textLength="11.27" lengthAdjust="spacingAndGlyphs">1.0</text>
<line x1="44.20" y1="410.30" x2="44.20" y2="413.50" stroke="#333" stroke-width="1.2"/>
<text x="41.94" y="423.80" font-size="8.72" fill="#2e2e2e" stroke="#2e2e2e" stroke-width="0.18" textLength="4.51" lengthAdjust="spacingAndGlyphs">0</text>
<line x1="77.46" y1="410.30" x2="77.46" y2="413.50" stroke="#333" stroke-width="1.2"/>
<text x="72.90" y="423.80" font-size="8.72" fill="#2e2e2e" stroke="#2e2e2e" stroke-width="0.18" textLength="9.02" lengthAdjust="spacingAndGlyphs">60</text>
<line x1="110.72" y1="410.30" x2="110.72" y2="413.50" stroke="#333" stroke-width="1.2"/>
<text x="103.80" y="423.80" font-size="8.72" fill="#2e2e2e" stroke="#2e2e2e" stroke-width="0.18" textLength="13.53" lengthAdjust="spacingAndGlyphs">120</text>
<line x1="143.98" y1="410.30" x2="143.98" y2="413.50" stroke="#333" stroke-width="1.2"/>
<text x="137.06" y="423.80" font-size="8.72" fill="#2e2e2e" stroke="#2e2e2e" stroke-width="0.18" textLength="13.53" lengthAdjust="spacingAndGlyphs">180</text>
<line x1="177.23" y1="410.30" x2="177.23" y2="413.50" stroke="#333" stroke-width="1.2"/>
<text x="170.42" y="423.80" font-size="8.72" fill="#2e2e2e" stroke="#2e2e2e" stroke-width="0.18" textLength="13.53" lengthAdjust="spacingAndGlyphs">240</text>
<line x1="210.49" y1="410.30" x2="210.49" y2="413.50" stroke="#333" stroke-width="1.2"/>
<text x="203.73" y="423.80" font-size="8.72" fill="#2e2e2e" stroke="#2e2e2e" stroke-width="0.18" textLength="13.53" lengthAdjust="spacingAndGlyphs">300</text>
<line x1="243.75" y1="410.30" x2="243.75" y2="413.50" stroke="#333" stroke-width="1.2"/>
<text x="236.99" y="423.80" font-size="8.72" fill="#2e2e2e" stroke="#2e2e2e" stroke-width="0.18" textLength="13.53" lengthAdjust="spacingAndGlyphs">360</text>
<text transform="translate(15.70,357.08) rotate(-90)" x="0" y="0" font-size="10.17" fill="#2a2a2a" stroke="#2a2a2a" stroke-width="0.18" textLength="38.11" lengthAdjust="spacingAndGlyphs">Proportion</text>
<text x="136.37" y="437.80" font-size="9.74" fill="#2a2a2a" stroke="#2a2a2a" stroke-width="0.18" textLength="17.51" lengthAdjust="spacingAndGlyphs">Days</text>
<path d="M47.0,405.8 L48.7,403.2 L51.1,400.1 L56.1,399.4 L61.0,397.6 L64.8,395.7 L69.7,392.6 L74.7,389.5 L80.0,387.7 L83.6,387.1 L92.1,386.4 L93.5,385.3 L106.2,384.7 L114.7,383.8 L120.4,382.9 L125.0,382.5 L129.8,382.5 L129.8,382.0 L141.3,382.0 L141.3,381.2 L197.9,381.2 L197.9,378.7 L211.0,378.7 L211.0,377.6 L216.6,377.6 L216.6,376.0 L233.3,376.0 L233.3,374.6 L238.1,374.6 L238.1,373.2 L244.0,373.2 L244.0,372.4 L246.0,372.4" fill="none" stroke="#2c4a66" stroke-width="1.0" stroke-linejoin="miter"/>
<line x1="59.2" y1="395.9" x2="59.2" y2="398.6" stroke="#2a3f5a" stroke-width="0.7"/>
<line x1="66.2" y1="392.4" x2="66.2" y2="395.1" stroke="#2a3f5a" stroke-width="0.7"/>
<line x1="70.5" y1="389.7" x2="70.5" y2="392.4" stroke="#2a3f5a" stroke-width="0.7"/>
<line x1="76.5" y1="386.5" x2="76.5" y2="389.2" stroke="#2a3f5a" stroke-width="0.7"/>
<line x1="81.8" y1="385.0" x2="81.8" y2="387.7" stroke="#2a3f5a" stroke-width="0.7"/>
<line x1="83.1" y1="384.8" x2="83.1" y2="387.5" stroke="#2a3f5a" stroke-width="0.7"/>
<line x1="89.4" y1="384.2" x2="89.4" y2="386.9" stroke="#2a3f5a" stroke-width="0.7"/>
<line x1="94.1" y1="382.9" x2="94.1" y2="385.6" stroke="#2a3f5a" stroke-width="0.7"/>
<line x1="97.7" y1="382.7" x2="97.7" y2="385.4" stroke="#2a3f5a" stroke-width="0.7"/>
<line x1="102.8" y1="382.5" x2="102.8" y2="385.2" stroke="#2a3f5a" stroke-width="0.7"/>
<line x1="106.6" y1="382.3" x2="106.6" y2="385.0" stroke="#2a3f5a" stroke-width="0.7"/>
<line x1="113.4" y1="381.5" x2="113.4" y2="384.2" stroke="#2a3f5a" stroke-width="0.7"/>
<line x1="116.4" y1="381.1" x2="116.4" y2="383.8" stroke="#2a3f5a" stroke-width="0.7"/>
<line x1="118.8" y1="380.7" x2="118.8" y2="383.4" stroke="#2a3f5a" stroke-width="0.7"/>
<line x1="123.5" y1="380.2" x2="123.5" y2="382.9" stroke="#2a3f5a" stroke-width="0.7"/>
<line x1="131.5" y1="379.6" x2="131.5" y2="382.3" stroke="#2a3f5a" stroke-width="0.7"/>
<line x1="134.7" y1="379.6" x2="134.7" y2="382.3" stroke="#2a3f5a" stroke-width="0.7"/>
<line x1="138.3" y1="379.6" x2="138.3" y2="382.3" stroke="#2a3f5a" stroke-width="0.7"/>
<line x1="142.4" y1="378.8" x2="142.4" y2="381.5" stroke="#2a3f5a" stroke-width="0.7"/>
<line x1="148.5" y1="378.8" x2="148.5" y2="381.5" stroke="#2a3f5a" stroke-width="0.7"/>
<line x1="153.1" y1="378.8" x2="153.1" y2="381.5" stroke="#2a3f5a" stroke-width="0.7"/>
<line x1="160.3" y1="378.8" x2="160.3" y2="381.5" stroke="#2a3f5a" stroke-width="0.7"/>
<line x1="164.3" y1="378.8" x2="164.3" y2="381.5" stroke="#2a3f5a" stroke-width="0.7"/>
<line x1="167.3" y1="378.8" x2="167.3" y2="381.5" stroke="#2a3f5a" stroke-width="0.7"/>
<line x1="171.9" y1="378.8" x2="171.9" y2="381.5" stroke="#2a3f5a" stroke-width="0.7"/>
<line x1="176.6" y1="378.8" x2="176.6" y2="381.5" stroke="#2a3f5a" stroke-width="0.7"/>
<line x1="180.2" y1="378.8" x2="180.2" y2="381.5" stroke="#2a3f5a" stroke-width="0.7"/>
<line x1="183.9" y1="378.8" x2="183.9" y2="381.5" stroke="#2a3f5a" stroke-width="0.7"/>
<line x1="191.1" y1="378.8" x2="191.1" y2="381.5" stroke="#2a3f5a" stroke-width="0.7"/>
<line x1="195.0" y1="378.8" x2="195.0" y2="381.5" stroke="#2a3f5a" stroke-width="0.7"/>
<line x1="196.6" y1="378.8" x2="196.6" y2="381.5" stroke="#2a3f5a" stroke-width="0.7"/>
<line x1="202.6" y1="376.3" x2="202.6" y2="379.0" stroke="#2a3f5a" stroke-width="0.7"/>
<line x1="207.4" y1="376.3" x2="207.4" y2="379.0" stroke="#2a3f5a" stroke-width="0.7"/>
<line x1="210.9" y1="376.3" x2="210.9" y2="379.0" stroke="#2a3f5a" stroke-width="0.7"/>
<line x1="213.5" y1="375.2" x2="213.5" y2="377.9" stroke="#2a3f5a" stroke-width="0.7"/>
<line x1="220.7" y1="373.6" x2="220.7" y2="376.3" stroke="#2a3f5a" stroke-width="0.7"/>
<line x1="225.3" y1="373.6" x2="225.3" y2="376.3" stroke="#2a3f5a" stroke-width="0.7"/>
<line x1="228.0" y1="373.6" x2="228.0" y2="376.3" stroke="#2a3f5a" stroke-width="0.7"/>
<line x1="233.7" y1="372.2" x2="233.7" y2="374.9" stroke="#2a3f5a" stroke-width="0.7"/>
<line x1="235.6" y1="372.2" x2="235.6" y2="374.9" stroke="#2a3f5a" stroke-width="0.7"/>
<line x1="239.9" y1="370.8" x2="239.9" y2="373.5" stroke="#2a3f5a" stroke-width="0.7"/>
<line x1="242.7" y1="370.8" x2="242.7" y2="373.5" stroke="#2a3f5a" stroke-width="0.7"/>
<path d="M47.5,405.8 L49.5,405.8 L49.5,404.6 L51.1,404.6 L51.1,403.2 L53.6,403.2 L53.6,401.9 L60.4,401.9 L60.4,398.2 L62.9,398.2 L62.9,394.5 L63.5,394.5 L63.5,388.3 L67.2,388.3 L67.2,385.8 L72.2,385.8 L72.2,383.3 L75.9,383.3 L75.9,381.5 L79.0,381.5 L79.0,380.0 L97.1,380.0 L97.1,376.8 L126.0,376.8 L126.0,374.8 L129.0,374.8 L129.0,373.2 L146.1,373.2 L146.1,370.0 L159.6,370.0 L159.6,366.0 L164.4,366.0 L164.4,361.3 L174.7,361.3 L174.7,354.9 L185.2,354.9 L185.2,347.4 L246.0,347.4" fill="none" stroke="#4f8f4f" stroke-width="1.0" stroke-linejoin="miter"/>
<line x1="70.2" y1="383.4" x2="70.2" y2="386.1" stroke="#3d6a3d" stroke-width="0.7"/>
<line x1="80.2" y1="377.6" x2="80.2" y2="380.3" stroke="#3d6a3d" stroke-width="0.7"/>
<line x1="90.4" y1="377.6" x2="90.4" y2="380.3" stroke="#3d6a3d" stroke-width="0.7"/>
<line x1="97.6" y1="374.4" x2="97.6" y2="377.1" stroke="#3d6a3d" stroke-width="0.7"/>
<line x1="107.5" y1="374.4" x2="107.5" y2="377.1" stroke="#3d6a3d" stroke-width="0.7"/>
<line x1="114.9" y1="374.4" x2="114.9" y2="377.1" stroke="#3d6a3d" stroke-width="0.7"/>
<line x1="123.0" y1="374.4" x2="123.0" y2="377.1" stroke="#3d6a3d" stroke-width="0.7"/>
<line x1="135.9" y1="370.8" x2="135.9" y2="373.5" stroke="#3d6a3d" stroke-width="0.7"/>
<line x1="145.5" y1="370.8" x2="145.5" y2="373.5" stroke="#3d6a3d" stroke-width="0.7"/>
<line x1="150.9" y1="367.6" x2="150.9" y2="370.3" stroke="#3d6a3d" stroke-width="0.7"/>
<line x1="158.4" y1="367.6" x2="158.4" y2="370.3" stroke="#3d6a3d" stroke-width="0.7"/>
<line x1="166.1" y1="358.9" x2="166.1" y2="361.6" stroke="#3d6a3d" stroke-width="0.7"/>
<line x1="176.4" y1="352.5" x2="176.4" y2="355.2" stroke="#3d6a3d" stroke-width="0.7"/>
<line x1="182.1" y1="352.5" x2="182.1" y2="355.2" stroke="#3d6a3d" stroke-width="0.7"/>
<line x1="194.8" y1="345.0" x2="194.8" y2="347.7" stroke="#3d6a3d" stroke-width="0.7"/>
<line x1="200.8" y1="345.0" x2="200.8" y2="347.7" stroke="#3d6a3d" stroke-width="0.7"/>
<line x1="210.8" y1="345.0" x2="210.8" y2="347.7" stroke="#3d6a3d" stroke-width="0.7"/>
<line x1="223.5" y1="345.0" x2="223.5" y2="347.7" stroke="#3d6a3d" stroke-width="0.7"/>
<line x1="232.0" y1="345.0" x2="232.0" y2="347.7" stroke="#3d6a3d" stroke-width="0.7"/>
<line x1="239.5" y1="345.0" x2="239.5" y2="347.7" stroke="#3d6a3d" stroke-width="0.7"/>
<path d="M46.5,405.6 L49.9,398.2 L53.6,389.5 L57.3,384.6 L62.3,380.9 L67.2,377.8 L72.2,374.7 L78.0,372.3 L82.2,366.6 L85.1,361.0 L89.3,356.0 L95.0,352.5 L99.2,351.4 L106.2,349.7 L113.3,346.1 L119.0,344.0 L123.2,342.6 L125.0,342.7 L139.3,342.7 L139.3,339.0 L142.5,339.0 L142.5,339.0 L147.3,339.0 L147.3,336.6 L155.2,336.6 L155.2,335.0 L156.8,335.0 L156.8,333.4 L171.0,333.4 L171.0,330.2 L174.3,330.2 L174.3,327.1 L175.0,327.1 L175.0,326.7 L194.0,326.7 L194.0,322.3 L217.0,322.3 L217.0,316.9 L246.0,316.9" fill="none" stroke="#b87c52" stroke-width="1.0" stroke-linejoin="miter"/>
<line x1="61.2" y1="379.3" x2="61.2" y2="382.0" stroke="#6a4a35" stroke-width="0.7"/>
<line x1="65.7" y1="376.4" x2="65.7" y2="379.1" stroke="#6a4a35" stroke-width="0.7"/>
<line x1="68.2" y1="374.8" x2="68.2" y2="377.5" stroke="#6a4a35" stroke-width="0.7"/>
<line x1="70.4" y1="373.4" x2="70.4" y2="376.1" stroke="#6a4a35" stroke-width="0.7"/>
<line x1="73.0" y1="372.0" x2="73.0" y2="374.7" stroke="#6a4a35" stroke-width="0.7"/>
<line x1="76.8" y1="370.4" x2="76.8" y2="373.1" stroke="#6a4a35" stroke-width="0.7"/>
<line x1="79.4" y1="368.1" x2="79.4" y2="370.8" stroke="#6a4a35" stroke-width="0.7"/>
<line x1="83.7" y1="361.2" x2="83.7" y2="363.9" stroke="#6a4a35" stroke-width="0.7"/>
<line x1="85.5" y1="358.1" x2="85.5" y2="360.8" stroke="#6a4a35" stroke-width="0.7"/>
<line x1="87.4" y1="355.9" x2="87.4" y2="358.6" stroke="#6a4a35" stroke-width="0.7"/>
<line x1="90.2" y1="353.1" x2="90.2" y2="355.8" stroke="#6a4a35" stroke-width="0.7"/>
<line x1="92.5" y1="351.6" x2="92.5" y2="354.3" stroke="#6a4a35" stroke-width="0.7"/>
<line x1="95.9" y1="349.9" x2="95.9" y2="352.6" stroke="#6a4a35" stroke-width="0.7"/>
<line x1="100.2" y1="348.8" x2="100.2" y2="351.5" stroke="#6a4a35" stroke-width="0.7"/>
<line x1="102.4" y1="348.2" x2="102.4" y2="350.9" stroke="#6a4a35" stroke-width="0.7"/>
<line x1="105.6" y1="347.4" x2="105.6" y2="350.1" stroke="#6a4a35" stroke-width="0.7"/>
<line x1="108.6" y1="346.1" x2="108.6" y2="348.8" stroke="#6a4a35" stroke-width="0.7"/>
<line x1="111.1" y1="344.8" x2="111.1" y2="347.5" stroke="#6a4a35" stroke-width="0.7"/>
<line x1="115.0" y1="343.1" x2="115.0" y2="345.8" stroke="#6a4a35" stroke-width="0.7"/>
<line x1="117.5" y1="342.2" x2="117.5" y2="344.9" stroke="#6a4a35" stroke-width="0.7"/>
<line x1="119.1" y1="341.6" x2="119.1" y2="344.3" stroke="#6a4a35" stroke-width="0.7"/>
<line x1="120.9" y1="341.0" x2="120.9" y2="343.7" stroke="#6a4a35" stroke-width="0.7"/>
<line x1="123.1" y1="340.2" x2="123.1" y2="342.9" stroke="#6a4a35" stroke-width="0.7"/>
<line x1="126.8" y1="340.3" x2="126.8" y2="343.0" stroke="#6a4a35" stroke-width="0.7"/>
<line x1="129.2" y1="340.3" x2="129.2" y2="343.0" stroke="#6a4a35" stroke-width="0.7"/>
<line x1="132.2" y1="340.3" x2="132.2" y2="343.0" stroke="#6a4a35" stroke-width="0.7"/>
<line x1="135.7" y1="340.3" x2="135.7" y2="343.0" stroke="#6a4a35" stroke-width="0.7"/>
<line x1="137.3" y1="340.3" x2="137.3" y2="343.0" stroke="#6a4a35" stroke-width="0.7"/>
<line x1="141.9" y1="336.6" x2="141.9" y2="339.3" stroke="#6a4a35" stroke-width="0.7"/>
<line x1="143.8" y1="336.6" x2="143.8" y2="339.3" stroke="#6a4a35" stroke-width="0.7"/>
<line x1="147.0" y1="336.6" x2="147.0" y2="339.3" stroke="#6a4a35" stroke-width="0.7"/>
<line x1="148.2" y1="334.2" x2="148.2" y2="336.9" stroke="#6a4a35" stroke-width="0.7"/>
<line x1="151.7" y1="334.2" x2="151.7" y2="336.9" stroke="#6a4a35" stroke-width="0.7"/>
<line x1="153.1" y1="334.2" x2="153.1" y2="336.9" stroke="#6a4a35" stroke-width="0.7"/>
<line x1="154.8" y1="334.2" x2="154.8" y2="336.9" stroke="#6a4a35" stroke-width="0.7"/>
<line x1="157.2" y1="331.0" x2="157.2" y2="333.7" stroke="#6a4a35" stroke-width="0.7"/>
<line x1="158.6" y1="331.0" x2="158.6" y2="333.7" stroke="#6a4a35" stroke-width="0.7"/>
<line x1="158.0" y1="331.0" x2="158.0" y2="333.7" stroke="#6a4a35" stroke-width="0.7"/>
<line x1="167.3" y1="331.0" x2="167.3" y2="333.7" stroke="#6a4a35" stroke-width="0.7"/>
<line x1="175.8" y1="324.3" x2="175.8" y2="327.0" stroke="#6a4a35" stroke-width="0.7"/>
<line x1="186.6" y1="324.3" x2="186.6" y2="327.0" stroke="#6a4a35" stroke-width="0.7"/>
<line x1="191.2" y1="324.3" x2="191.2" y2="327.0" stroke="#6a4a35" stroke-width="0.7"/>
<line x1="198.1" y1="319.9" x2="198.1" y2="322.6" stroke="#6a4a35" stroke-width="0.7"/>
<line x1="213.0" y1="319.9" x2="213.0" y2="322.6" stroke="#6a4a35" stroke-width="0.7"/>
<line x1="221.3" y1="314.5" x2="221.3" y2="317.2" stroke="#6a4a35" stroke-width="0.7"/>
<line x1="229.5" y1="314.5" x2="229.5" y2="317.2" stroke="#6a4a35" stroke-width="0.7"/>
<line x1="235.3" y1="314.5" x2="235.3" y2="317.2" stroke="#6a4a35" stroke-width="0.7"/>
<line x1="245.3" y1="314.5" x2="245.3" y2="317.2" stroke="#6a4a35" stroke-width="0.7"/>
<path d="M45.0,405.6 L47.4,399.4 L49.9,393.3 L53.6,385.8 L57.3,379.6 L62.3,373.4 L66.0,369.7 L69.7,364.8 L72.2,361.0 L75.9,358.0 L78.0,357.4 L85.1,351.8 L92.1,347.5 L99.2,344.0 L106.2,339.8 L111.9,336.2 L114.7,333.4 L120.4,332.7 L125.0,331.8 L136.5,331.8 L136.5,329.4 L144.1,329.4 L144.1,327.9 L146.5,327.9 L146.5,324.7 L150.5,324.7 L150.5,323.1 L152.9,323.1 L152.9,321.5 L168.4,321.5 L168.4,319.9 L181.2,319.9 L181.2,315.1 L183.2,315.1 L183.2,313.5 L198.0,313.5 L198.0,311.1 L246.0,311.1" fill="none" stroke="#962f45" stroke-width="1.15" stroke-linejoin="miter"/>
<line x1="47.2" y1="397.4" x2="47.2" y2="400.1" stroke="#5a2a38" stroke-width="0.7"/>
<line x1="48.7" y1="393.8" x2="48.7" y2="396.5" stroke="#5a2a38" stroke-width="0.7"/>
<line x1="49.3" y1="392.3" x2="49.3" y2="395.0" stroke="#5a2a38" stroke-width="0.7"/>
<line x1="50.9" y1="388.8" x2="50.9" y2="391.5" stroke="#5a2a38" stroke-width="0.7"/>
<line x1="52.1" y1="386.5" x2="52.1" y2="389.2" stroke="#5a2a38" stroke-width="0.7"/>
<line x1="53.3" y1="384.0" x2="53.3" y2="386.7" stroke="#5a2a38" stroke-width="0.7"/>
<line x1="55.2" y1="380.8" x2="55.2" y2="383.5" stroke="#5a2a38" stroke-width="0.7"/>
<line x1="55.5" y1="380.1" x2="55.5" y2="382.8" stroke="#5a2a38" stroke-width="0.7"/>
<line x1="56.6" y1="378.4" x2="56.6" y2="381.1" stroke="#5a2a38" stroke-width="0.7"/>
<line x1="57.4" y1="377.1" x2="57.4" y2="379.8" stroke="#5a2a38" stroke-width="0.7"/>
<line x1="59.7" y1="374.3" x2="59.7" y2="377.0" stroke="#5a2a38" stroke-width="0.7"/>
<line x1="60.8" y1="372.9" x2="60.8" y2="375.6" stroke="#5a2a38" stroke-width="0.7"/>
<line x1="62.0" y1="371.3" x2="62.0" y2="374.0" stroke="#5a2a38" stroke-width="0.7"/>
<line x1="64.0" y1="369.3" x2="64.0" y2="372.0" stroke="#5a2a38" stroke-width="0.7"/>
<line x1="64.4" y1="368.9" x2="64.4" y2="371.6" stroke="#5a2a38" stroke-width="0.7"/>
<line x1="66.4" y1="366.8" x2="66.4" y2="369.5" stroke="#5a2a38" stroke-width="0.7"/>
<line x1="66.8" y1="366.2" x2="66.8" y2="368.9" stroke="#5a2a38" stroke-width="0.7"/>
<line x1="68.4" y1="364.1" x2="68.4" y2="366.8" stroke="#5a2a38" stroke-width="0.7"/>
<line x1="69.9" y1="362.1" x2="69.9" y2="364.8" stroke="#5a2a38" stroke-width="0.7"/>
<line x1="72.0" y1="358.9" x2="72.0" y2="361.6" stroke="#5a2a38" stroke-width="0.7"/>
<line x1="72.9" y1="358.0" x2="72.9" y2="360.7" stroke="#5a2a38" stroke-width="0.7"/>
<line x1="74.6" y1="356.6" x2="74.6" y2="359.3" stroke="#5a2a38" stroke-width="0.7"/>
<line x1="76.2" y1="355.5" x2="76.2" y2="358.2" stroke="#5a2a38" stroke-width="0.7"/>
<line x1="77.0" y1="355.3" x2="77.0" y2="358.0" stroke="#5a2a38" stroke-width="0.7"/>
<line x1="78.4" y1="354.7" x2="78.4" y2="357.4" stroke="#5a2a38" stroke-width="0.7"/>
<line x1="79.3" y1="354.0" x2="79.3" y2="356.7" stroke="#5a2a38" stroke-width="0.7"/>
<line x1="80.7" y1="352.8" x2="80.7" y2="355.5" stroke="#5a2a38" stroke-width="0.7"/>
<line x1="82.2" y1="351.6" x2="82.2" y2="354.3" stroke="#5a2a38" stroke-width="0.7"/>
<line x1="83.3" y1="350.8" x2="83.3" y2="353.5" stroke="#5a2a38" stroke-width="0.7"/>
<line x1="84.5" y1="349.8" x2="84.5" y2="352.5" stroke="#5a2a38" stroke-width="0.7"/>
<line x1="85.2" y1="349.3" x2="85.2" y2="352.0" stroke="#5a2a38" stroke-width="0.7"/>
<line x1="87.1" y1="348.2" x2="87.1" y2="350.9" stroke="#5a2a38" stroke-width="0.7"/>
<line x1="87.6" y1="347.8" x2="87.6" y2="350.5" stroke="#5a2a38" stroke-width="0.7"/>
<line x1="89.8" y1="346.5" x2="89.8" y2="349.2" stroke="#5a2a38" stroke-width="0.7"/>
<line x1="91.8" y1="345.3" x2="91.8" y2="348.0" stroke="#5a2a38" stroke-width="0.7"/>
<line x1="93.1" y1="344.6" x2="93.1" y2="347.3" stroke="#5a2a38" stroke-width="0.7"/>
<line x1="94.3" y1="344.0" x2="94.3" y2="346.7" stroke="#5a2a38" stroke-width="0.7"/>
<line x1="95.4" y1="343.5" x2="95.4" y2="346.2" stroke="#5a2a38" stroke-width="0.7"/>
<line x1="97.4" y1="342.5" x2="97.4" y2="345.2" stroke="#5a2a38" stroke-width="0.7"/>
<line x1="98.0" y1="342.2" x2="98.0" y2="344.9" stroke="#5a2a38" stroke-width="0.7"/>
<line x1="98.6" y1="341.9" x2="98.6" y2="344.6" stroke="#5a2a38" stroke-width="0.7"/>
<line x1="100.3" y1="340.9" x2="100.3" y2="343.6" stroke="#5a2a38" stroke-width="0.7"/>
<line x1="101.1" y1="340.5" x2="101.1" y2="343.2" stroke="#5a2a38" stroke-width="0.7"/>
<line x1="103.0" y1="339.3" x2="103.0" y2="342.0" stroke="#5a2a38" stroke-width="0.7"/>
<line x1="103.6" y1="339.0" x2="103.6" y2="341.7" stroke="#5a2a38" stroke-width="0.7"/>
<line x1="105.5" y1="337.8" x2="105.5" y2="340.5" stroke="#5a2a38" stroke-width="0.7"/>
<line x1="107.1" y1="336.8" x2="107.1" y2="339.5" stroke="#5a2a38" stroke-width="0.7"/>
<line x1="109.0" y1="335.6" x2="109.0" y2="338.3" stroke="#5a2a38" stroke-width="0.7"/>
<line x1="110.7" y1="334.6" x2="110.7" y2="337.3" stroke="#5a2a38" stroke-width="0.7"/>
<line x1="111.4" y1="334.1" x2="111.4" y2="336.8" stroke="#5a2a38" stroke-width="0.7"/>
<line x1="112.9" y1="332.8" x2="112.9" y2="335.5" stroke="#5a2a38" stroke-width="0.7"/>
<line x1="113.2" y1="332.5" x2="113.2" y2="335.2" stroke="#5a2a38" stroke-width="0.7"/>
<line x1="115.3" y1="330.9" x2="115.3" y2="333.6" stroke="#5a2a38" stroke-width="0.7"/>
<line x1="117.0" y1="330.7" x2="117.0" y2="333.4" stroke="#5a2a38" stroke-width="0.7"/>
<line x1="118.5" y1="330.5" x2="118.5" y2="333.2" stroke="#5a2a38" stroke-width="0.7"/>
<line x1="120.6" y1="330.3" x2="120.6" y2="333.0" stroke="#5a2a38" stroke-width="0.7"/>
<line x1="122.3" y1="329.9" x2="122.3" y2="332.6" stroke="#5a2a38" stroke-width="0.7"/>
<line x1="123.7" y1="329.6" x2="123.7" y2="332.3" stroke="#5a2a38" stroke-width="0.7"/>
<line x1="125.3" y1="329.4" x2="125.3" y2="332.1" stroke="#5a2a38" stroke-width="0.7"/>
<line x1="126.6" y1="329.4" x2="126.6" y2="332.1" stroke="#5a2a38" stroke-width="0.7"/>
<line x1="128.1" y1="329.4" x2="128.1" y2="332.1" stroke="#5a2a38" stroke-width="0.7"/>
<line x1="128.9" y1="329.4" x2="128.9" y2="332.1" stroke="#5a2a38" stroke-width="0.7"/>
<line x1="130.5" y1="329.4" x2="130.5" y2="332.1" stroke="#5a2a38" stroke-width="0.7"/>
<line x1="131.1" y1="329.4" x2="131.1" y2="332.1" stroke="#5a2a38" stroke-width="0.7"/>
<line x1="132.2" y1="329.4" x2="132.2" y2="332.1" stroke="#5a2a38" stroke-width="0.7"/>
<line x1="134.2" y1="329.4" x2="134.2" y2="332.1" stroke="#5a2a38" stroke-width="0.7"/>
<line x1="135.5" y1="329.4" x2="135.5" y2="332.1" stroke="#5a2a38" stroke-width="0.7"/>
<line x1="136.6" y1="327.0" x2="136.6" y2="329.7" stroke="#5a2a38" stroke-width="0.7"/>
<line x1="138.5" y1="327.0" x2="138.5" y2="329.7" stroke="#5a2a38" stroke-width="0.7"/>
<line x1="139.3" y1="327.0" x2="139.3" y2="329.7" stroke="#5a2a38" stroke-width="0.7"/>
<line x1="140.0" y1="327.0" x2="140.0" y2="329.7" stroke="#5a2a38" stroke-width="0.7"/>
<line x1="141.6" y1="327.0" x2="141.6" y2="329.7" stroke="#5a2a38" stroke-width="0.7"/>
<line x1="143.2" y1="327.0" x2="143.2" y2="329.7" stroke="#5a2a38" stroke-width="0.7"/>
<line x1="145.0" y1="325.5" x2="145.0" y2="328.2" stroke="#5a2a38" stroke-width="0.7"/>
<line x1="146.8" y1="322.3" x2="146.8" y2="325.0" stroke="#5a2a38" stroke-width="0.7"/>
<line x1="148.4" y1="322.3" x2="148.4" y2="325.0" stroke="#5a2a38" stroke-width="0.7"/>
<line x1="150.3" y1="322.3" x2="150.3" y2="325.0" stroke="#5a2a38" stroke-width="0.7"/>
<line x1="151.5" y1="320.7" x2="151.5" y2="323.4" stroke="#5a2a38" stroke-width="0.7"/>
<line x1="161.0" y1="319.1" x2="161.0" y2="321.8" stroke="#5a2a38" stroke-width="0.7"/>
<line x1="169.2" y1="317.5" x2="169.2" y2="320.2" stroke="#5a2a38" stroke-width="0.7"/>
<line x1="180.8" y1="317.5" x2="180.8" y2="320.2" stroke="#5a2a38" stroke-width="0.7"/>
<line x1="189.8" y1="311.1" x2="189.8" y2="313.8" stroke="#5a2a38" stroke-width="0.7"/>
<line x1="196.2" y1="311.1" x2="196.2" y2="313.8" stroke="#5a2a38" stroke-width="0.7"/>
<line x1="203.6" y1="308.7" x2="203.6" y2="311.4" stroke="#5a2a38" stroke-width="0.7"/>
<line x1="215.7" y1="308.7" x2="215.7" y2="311.4" stroke="#5a2a38" stroke-width="0.7"/>
<line x1="224.5" y1="308.7" x2="224.5" y2="311.4" stroke="#5a2a38" stroke-width="0.7"/>
<line x1="237.4" y1="308.7" x2="237.4" y2="311.4" stroke="#5a2a38" stroke-width="0.7"/>
<line x1="241.4" y1="308.7" x2="241.4" y2="311.4" stroke="#5a2a38" stroke-width="0.7"/>
<text x="266.37" y="243.20" font-size="11.92" font-weight="bold" fill="#111" stroke="#111" stroke-width="0.18" textLength="9.39" lengthAdjust="spacingAndGlyphs">C</text>
<text x="372.89" y="257.30" font-size="9.16" fill="#2a2a2a" stroke="#2a2a2a" stroke-width="0.18" textLength="65.48" lengthAdjust="spacingAndGlyphs">Severe Bleeding</text>
<line x1="299.80" y1="264.20" x2="299.80" y2="410.95" stroke="#333" stroke-width="1.5"/>
<line x1="299.05" y1="410.20" x2="512.70" y2="410.20" stroke="#333" stroke-width="1.5"/>
<line x1="296.60" y1="406.30" x2="299.80" y2="406.30" stroke="#333" stroke-width="1.2"/>
<text x="281.91" y="408.85" font-size="8.72" fill="#2e2e2e" stroke="#2e2e2e" stroke-width="0.18" textLength="11.52" lengthAdjust="spacingAndGlyphs">0.0</text>
<line x1="296.60" y1="378.80" x2="299.80" y2="378.80" stroke="#333" stroke-width="1.2"/>
<text x="282.00" y="381.35" font-size="8.72" fill="#2e2e2e" stroke="#2e2e2e" stroke-width="0.18" textLength="11.52" lengthAdjust="spacingAndGlyphs">0.2</text>
<line x1="296.60" y1="351.30" x2="299.80" y2="351.30" stroke="#333" stroke-width="1.2"/>
<text x="281.83" y="353.85" font-size="8.72" fill="#2e2e2e" stroke="#2e2e2e" stroke-width="0.18" textLength="11.52" lengthAdjust="spacingAndGlyphs">0.4</text>
<line x1="296.60" y1="323.80" x2="299.80" y2="323.80" stroke="#333" stroke-width="1.2"/>
<text x="281.95" y="326.35" font-size="8.72" fill="#2e2e2e" stroke="#2e2e2e" stroke-width="0.18" textLength="11.52" lengthAdjust="spacingAndGlyphs">0.6</text>
<line x1="296.60" y1="296.30" x2="299.80" y2="296.30" stroke="#333" stroke-width="1.2"/>
<text x="281.94" y="298.85" font-size="8.72" fill="#2e2e2e" stroke="#2e2e2e" stroke-width="0.18" textLength="11.52" lengthAdjust="spacingAndGlyphs">0.8</text>
<line x1="296.60" y1="268.80" x2="299.80" y2="268.80" stroke="#333" stroke-width="1.2"/>
<text x="282.14" y="271.35" font-size="8.72" fill="#2e2e2e" stroke="#2e2e2e" stroke-width="0.18" textLength="11.27" lengthAdjust="spacingAndGlyphs">1.0</text>
<line x1="304.00" y1="410.20" x2="304.00" y2="413.40" stroke="#333" stroke-width="1.2"/>
<text x="301.74" y="423.70" font-size="8.72" fill="#2e2e2e" stroke="#2e2e2e" stroke-width="0.18" textLength="4.51" lengthAdjust="spacingAndGlyphs">0</text>
<line x1="337.60" y1="410.20" x2="337.60" y2="413.40" stroke="#333" stroke-width="1.2"/>
<text x="333.04" y="423.70" font-size="8.72" fill="#2e2e2e" stroke="#2e2e2e" stroke-width="0.18" textLength="9.02" lengthAdjust="spacingAndGlyphs">60</text>
<line x1="371.20" y1="410.20" x2="371.20" y2="413.40" stroke="#333" stroke-width="1.2"/>
<text x="364.28" y="423.70" font-size="8.72" fill="#2e2e2e" stroke="#2e2e2e" stroke-width="0.18" textLength="13.53" lengthAdjust="spacingAndGlyphs">120</text>
<line x1="404.80" y1="410.20" x2="404.80" y2="413.40" stroke="#333" stroke-width="1.2"/>
<text x="397.88" y="423.70" font-size="8.72" fill="#2e2e2e" stroke="#2e2e2e" stroke-width="0.18" textLength="13.53" lengthAdjust="spacingAndGlyphs">180</text>
<line x1="438.40" y1="410.20" x2="438.40" y2="413.40" stroke="#333" stroke-width="1.2"/>
<text x="431.59" y="423.70" font-size="8.72" fill="#2e2e2e" stroke="#2e2e2e" stroke-width="0.18" textLength="13.53" lengthAdjust="spacingAndGlyphs">240</text>
<line x1="472.00" y1="410.20" x2="472.00" y2="413.40" stroke="#333" stroke-width="1.2"/>
<text x="465.24" y="423.70" font-size="8.72" fill="#2e2e2e" stroke="#2e2e2e" stroke-width="0.18" textLength="13.53" lengthAdjust="spacingAndGlyphs">300</text>
<line x1="505.60" y1="410.20" x2="505.60" y2="413.40" stroke="#333" stroke-width="1.2"/>
<text x="498.84" y="423.70" font-size="8.72" fill="#2e2e2e" stroke="#2e2e2e" stroke-width="0.18" textLength="13.53" lengthAdjust="spacingAndGlyphs">360</text>
<text transform="translate(275.70,356.58) rotate(-90)" x="0" y="0" font-size="10.17" fill="#2a2a2a" stroke="#2a2a2a" stroke-width="0.18" textLength="38.11" lengthAdjust="spacingAndGlyphs">Proportion</text>
<text x="397.36" y="437.80" font-size="9.74" fill="#2a2a2a" stroke="#2a2a2a" stroke-width="0.18" textLength="17.72" lengthAdjust="spacingAndGlyphs">Days</text>
<path d="M309.6,406.3 L319.2,405.9 L354.6,405.9 L354.6,403.2 L508.7,403.2" fill="none" stroke="#4f8f4f" stroke-width="1.0" stroke-linejoin="miter"/>
<line x1="324.6" y1="403.5" x2="324.6" y2="406.2" stroke="#3d6a3d" stroke-width="0.7"/>
<line x1="328.6" y1="403.5" x2="328.6" y2="406.2" stroke="#3d6a3d" stroke-width="0.7"/>
<line x1="340.9" y1="403.5" x2="340.9" y2="406.2" stroke="#3d6a3d" stroke-width="0.7"/>
<line x1="353.3" y1="403.5" x2="353.3" y2="406.2" stroke="#3d6a3d" stroke-width="0.7"/>
<line x1="360.8" y1="400.8" x2="360.8" y2="403.5" stroke="#3d6a3d" stroke-width="0.7"/>
<line x1="366.4" y1="400.8" x2="366.4" y2="403.5" stroke="#3d6a3d" stroke-width="0.7"/>
<line x1="375.2" y1="400.8" x2="375.2" y2="403.5" stroke="#3d6a3d" stroke-width="0.7"/>
<line x1="382.6" y1="400.8" x2="382.6" y2="403.5" stroke="#3d6a3d" stroke-width="0.7"/>
<line x1="392.5" y1="400.8" x2="392.5" y2="403.5" stroke="#3d6a3d" stroke-width="0.7"/>
<line x1="403.2" y1="400.8" x2="403.2" y2="403.5" stroke="#3d6a3d" stroke-width="0.7"/>
<line x1="410.3" y1="400.8" x2="410.3" y2="403.5" stroke="#3d6a3d" stroke-width="0.7"/>
<line x1="419.1" y1="400.8" x2="419.1" y2="403.5" stroke="#3d6a3d" stroke-width="0.7"/>
<line x1="420.7" y1="400.8" x2="420.7" y2="403.5" stroke="#3d6a3d" stroke-width="0.7"/>
<line x1="430.9" y1="400.8" x2="430.9" y2="403.5" stroke="#3d6a3d" stroke-width="0.7"/>
<line x1="434.4" y1="400.8" x2="434.4" y2="403.5" stroke="#3d6a3d" stroke-width="0.7"/>
<line x1="444.0" y1="400.8" x2="444.0" y2="403.5" stroke="#3d6a3d" stroke-width="0.7"/>
<line x1="452.7" y1="400.8" x2="452.7" y2="403.5" stroke="#3d6a3d" stroke-width="0.7"/>
<line x1="462.6" y1="400.8" x2="462.6" y2="403.5" stroke="#3d6a3d" stroke-width="0.7"/>
<line x1="463.8" y1="400.8" x2="463.8" y2="403.5" stroke="#3d6a3d" stroke-width="0.7"/>
<line x1="469.9" y1="400.8" x2="469.9" y2="403.5" stroke="#3d6a3d" stroke-width="0.7"/>
<line x1="475.0" y1="400.8" x2="475.0" y2="403.5" stroke="#3d6a3d" stroke-width="0.7"/>
<line x1="483.5" y1="400.8" x2="483.5" y2="403.5" stroke="#3d6a3d" stroke-width="0.7"/>
<line x1="491.0" y1="400.8" x2="491.0" y2="403.5" stroke="#3d6a3d" stroke-width="0.7"/>
<line x1="501.8" y1="400.8" x2="501.8" y2="403.5" stroke="#3d6a3d" stroke-width="0.7"/>
<path d="M314.4,406.0 L314.4,404.4 L321.2,403.0 L325.0,402.3 L330.0,401.5 L343.8,401.0 L350.0,400.5 L415.2,400.5 L415.2,399.3 L460.8,399.3 L460.8,398.3 L508.7,398.3" fill="none" stroke="#2c4a66" stroke-width="1.0" stroke-linejoin="miter"/>
<line x1="316.9" y1="401.5" x2="316.9" y2="404.2" stroke="#2a3f5a" stroke-width="0.7"/>
<line x1="322.1" y1="400.4" x2="322.1" y2="403.1" stroke="#2a3f5a" stroke-width="0.7"/>
<line x1="327.3" y1="399.5" x2="327.3" y2="402.2" stroke="#2a3f5a" stroke-width="0.7"/>
<line x1="330.7" y1="399.1" x2="330.7" y2="401.8" stroke="#2a3f5a" stroke-width="0.7"/>
<line x1="334.8" y1="398.9" x2="334.8" y2="401.6" stroke="#2a3f5a" stroke-width="0.7"/>
<line x1="339.1" y1="398.8" x2="339.1" y2="401.5" stroke="#2a3f5a" stroke-width="0.7"/>
<line x1="344.3" y1="398.6" x2="344.3" y2="401.3" stroke="#2a3f5a" stroke-width="0.7"/>
<line x1="346.6" y1="398.4" x2="346.6" y2="401.1" stroke="#2a3f5a" stroke-width="0.7"/>
<line x1="350.2" y1="398.1" x2="350.2" y2="400.8" stroke="#2a3f5a" stroke-width="0.7"/>
<line x1="356.1" y1="398.1" x2="356.1" y2="400.8" stroke="#2a3f5a" stroke-width="0.7"/>
<line x1="359.5" y1="398.1" x2="359.5" y2="400.8" stroke="#2a3f5a" stroke-width="0.7"/>
<line x1="365.2" y1="398.1" x2="365.2" y2="400.8" stroke="#2a3f5a" stroke-width="0.7"/>
<line x1="368.6" y1="398.1" x2="368.6" y2="400.8" stroke="#2a3f5a" stroke-width="0.7"/>
<line x1="372.0" y1="398.1" x2="372.0" y2="400.8" stroke="#2a3f5a" stroke-width="0.7"/>
<line x1="376.2" y1="398.1" x2="376.2" y2="400.8" stroke="#2a3f5a" stroke-width="0.7"/>
<line x1="381.5" y1="398.1" x2="381.5" y2="400.8" stroke="#2a3f5a" stroke-width="0.7"/>
<line x1="384.7" y1="398.1" x2="384.7" y2="400.8" stroke="#2a3f5a" stroke-width="0.7"/>
<line x1="389.7" y1="398.1" x2="389.7" y2="400.8" stroke="#2a3f5a" stroke-width="0.7"/>
<line x1="393.9" y1="398.1" x2="393.9" y2="400.8" stroke="#2a3f5a" stroke-width="0.7"/>
<line x1="395.2" y1="398.1" x2="395.2" y2="400.8" stroke="#2a3f5a" stroke-width="0.7"/>
<line x1="399.5" y1="398.1" x2="399.5" y2="400.8" stroke="#2a3f5a" stroke-width="0.7"/>
<line x1="405.7" y1="398.1" x2="405.7" y2="400.8" stroke="#2a3f5a" stroke-width="0.7"/>
<line x1="410.5" y1="398.1" x2="410.5" y2="400.8" stroke="#2a3f5a" stroke-width="0.7"/>
<line x1="412.9" y1="398.1" x2="412.9" y2="400.8" stroke="#2a3f5a" stroke-width="0.7"/>
<line x1="416.9" y1="396.9" x2="416.9" y2="399.6" stroke="#2a3f5a" stroke-width="0.7"/>
<line x1="420.7" y1="396.9" x2="420.7" y2="399.6" stroke="#2a3f5a" stroke-width="0.7"/>
<line x1="424.6" y1="396.9" x2="424.6" y2="399.6" stroke="#2a3f5a" stroke-width="0.7"/>
<line x1="429.8" y1="396.9" x2="429.8" y2="399.6" stroke="#2a3f5a" stroke-width="0.7"/>
<line x1="435.1" y1="396.9" x2="435.1" y2="399.6" stroke="#2a3f5a" stroke-width="0.7"/>
<line x1="439.9" y1="396.9" x2="439.9" y2="399.6" stroke="#2a3f5a" stroke-width="0.7"/>
<line x1="443.6" y1="396.9" x2="443.6" y2="399.6" stroke="#2a3f5a" stroke-width="0.7"/>
<line x1="445.3" y1="396.9" x2="445.3" y2="399.6" stroke="#2a3f5a" stroke-width="0.7"/>
<line x1="450.2" y1="396.9" x2="450.2" y2="399.6" stroke="#2a3f5a" stroke-width="0.7"/>
<line x1="455.0" y1="396.9" x2="455.0" y2="399.6" stroke="#2a3f5a" stroke-width="0.7"/>
<line x1="458.9" y1="396.9" x2="458.9" y2="399.6" stroke="#2a3f5a" stroke-width="0.7"/>
<line x1="462.5" y1="395.9" x2="462.5" y2="398.6" stroke="#2a3f5a" stroke-width="0.7"/>
<line x1="465.2" y1="395.9" x2="465.2" y2="398.6" stroke="#2a3f5a" stroke-width="0.7"/>
<line x1="470.3" y1="395.9" x2="470.3" y2="398.6" stroke="#2a3f5a" stroke-width="0.7"/>
<line x1="473.8" y1="395.9" x2="473.8" y2="398.6" stroke="#2a3f5a" stroke-width="0.7"/>
<line x1="477.2" y1="395.9" x2="477.2" y2="398.6" stroke="#2a3f5a" stroke-width="0.7"/>
<line x1="482.7" y1="395.9" x2="482.7" y2="398.6" stroke="#2a3f5a" stroke-width="0.7"/>
<line x1="487.1" y1="395.9" x2="487.1" y2="398.6" stroke="#2a3f5a" stroke-width="0.7"/>
<line x1="488.2" y1="395.9" x2="488.2" y2="398.6" stroke="#2a3f5a" stroke-width="0.7"/>
<line x1="493.2" y1="395.9" x2="493.2" y2="398.6" stroke="#2a3f5a" stroke-width="0.7"/>
<line x1="497.4" y1="395.9" x2="497.4" y2="398.6" stroke="#2a3f5a" stroke-width="0.7"/>
<line x1="500.8" y1="395.9" x2="500.8" y2="398.6" stroke="#2a3f5a" stroke-width="0.7"/>
<line x1="502.7" y1="395.9" x2="502.7" y2="398.6" stroke="#2a3f5a" stroke-width="0.7"/>
<path d="M303.8,406.3 L314.4,403.5 L319.8,401.4 L324.6,400.5 L329.4,399.5 L339.0,399.0 L343.8,398.1 L348.7,396.2 L350.0,395.5 L403.5,395.5 L403.5,393.5 L417.3,393.5 L417.3,390.6 L432.3,390.6 L432.3,385.4 L445.6,385.4 L445.6,380.3 L508.7,380.3" fill="none" stroke="#b87c52" stroke-width="1.0" stroke-linejoin="miter"/>
<line x1="321.4" y1="398.7" x2="321.4" y2="401.4" stroke="#6a4a35" stroke-width="0.7"/>
<line x1="324.9" y1="398.0" x2="324.9" y2="400.7" stroke="#6a4a35" stroke-width="0.7"/>
<line x1="329.3" y1="397.1" x2="329.3" y2="399.8" stroke="#6a4a35" stroke-width="0.7"/>
<line x1="331.4" y1="397.0" x2="331.4" y2="399.7" stroke="#6a4a35" stroke-width="0.7"/>
<line x1="334.1" y1="396.9" x2="334.1" y2="399.6" stroke="#6a4a35" stroke-width="0.7"/>
<line x1="335.1" y1="396.8" x2="335.1" y2="399.5" stroke="#6a4a35" stroke-width="0.7"/>
<line x1="339.4" y1="396.5" x2="339.4" y2="399.2" stroke="#6a4a35" stroke-width="0.7"/>
<line x1="341.2" y1="396.2" x2="341.2" y2="398.9" stroke="#6a4a35" stroke-width="0.7"/>
<line x1="343.0" y1="395.9" x2="343.0" y2="398.6" stroke="#6a4a35" stroke-width="0.7"/>
<line x1="344.8" y1="395.3" x2="344.8" y2="398.0" stroke="#6a4a35" stroke-width="0.7"/>
<line x1="348.2" y1="394.0" x2="348.2" y2="396.7" stroke="#6a4a35" stroke-width="0.7"/>
<line x1="349.9" y1="393.2" x2="349.9" y2="395.9" stroke="#6a4a35" stroke-width="0.7"/>
<line x1="352.0" y1="393.1" x2="352.0" y2="395.8" stroke="#6a4a35" stroke-width="0.7"/>
<line x1="355.0" y1="393.1" x2="355.0" y2="395.8" stroke="#6a4a35" stroke-width="0.7"/>
<line x1="358.3" y1="393.1" x2="358.3" y2="395.8" stroke="#6a4a35" stroke-width="0.7"/>
<line x1="362.0" y1="393.1" x2="362.0" y2="395.8" stroke="#6a4a35" stroke-width="0.7"/>
<line x1="363.1" y1="393.1" x2="363.1" y2="395.8" stroke="#6a4a35" stroke-width="0.7"/>
<line x1="366.9" y1="393.1" x2="366.9" y2="395.8" stroke="#6a4a35" stroke-width="0.7"/>
<line x1="369.6" y1="393.1" x2="369.6" y2="395.8" stroke="#6a4a35" stroke-width="0.7"/>
<line x1="371.3" y1="393.1" x2="371.3" y2="395.8" stroke="#6a4a35" stroke-width="0.7"/>
<line x1="375.1" y1="393.1" x2="375.1" y2="395.8" stroke="#6a4a35" stroke-width="0.7"/>
<line x1="377.3" y1="393.1" x2="377.3" y2="395.8" stroke="#6a4a35" stroke-width="0.7"/>
<line x1="380.0" y1="393.1" x2="380.0" y2="395.8" stroke="#6a4a35" stroke-width="0.7"/>
<line x1="383.3" y1="393.1" x2="383.3" y2="395.8" stroke="#6a4a35" stroke-width="0.7"/>
<line x1="384.9" y1="393.1" x2="384.9" y2="395.8" stroke="#6a4a35" stroke-width="0.7"/>
<line x1="388.8" y1="393.1" x2="388.8" y2="395.8" stroke="#6a4a35" stroke-width="0.7"/>
<line x1="390.9" y1="393.1" x2="390.9" y2="395.8" stroke="#6a4a35" stroke-width="0.7"/>
<line x1="392.9" y1="393.1" x2="392.9" y2="395.8" stroke="#6a4a35" stroke-width="0.7"/>
<line x1="395.1" y1="393.1" x2="395.1" y2="395.8" stroke="#6a4a35" stroke-width="0.7"/>
<line x1="398.0" y1="393.1" x2="398.0" y2="395.8" stroke="#6a4a35" stroke-width="0.7"/>
<line x1="400.2" y1="393.1" x2="400.2" y2="395.8" stroke="#6a4a35" stroke-width="0.7"/>
<line x1="400.7" y1="393.1" x2="400.7" y2="395.8" stroke="#6a4a35" stroke-width="0.7"/>
<line x1="405.3" y1="391.1" x2="405.3" y2="393.8" stroke="#6a4a35" stroke-width="0.7"/>
<line x1="408.7" y1="391.1" x2="408.7" y2="393.8" stroke="#6a4a35" stroke-width="0.7"/>
<line x1="411.5" y1="391.1" x2="411.5" y2="393.8" stroke="#6a4a35" stroke-width="0.7"/>
<line x1="412.9" y1="391.1" x2="412.9" y2="393.8" stroke="#6a4a35" stroke-width="0.7"/>
<line x1="414.8" y1="391.1" x2="414.8" y2="393.8" stroke="#6a4a35" stroke-width="0.7"/>
<line x1="417.9" y1="388.2" x2="417.9" y2="390.9" stroke="#6a4a35" stroke-width="0.7"/>
<line x1="419.6" y1="388.2" x2="419.6" y2="390.9" stroke="#6a4a35" stroke-width="0.7"/>
<line x1="423.8" y1="388.2" x2="423.8" y2="390.9" stroke="#6a4a35" stroke-width="0.7"/>
<line x1="431.1" y1="388.2" x2="431.1" y2="390.9" stroke="#6a4a35" stroke-width="0.7"/>
<line x1="437.5" y1="383.0" x2="437.5" y2="385.7" stroke="#6a4a35" stroke-width="0.7"/>
<line x1="442.1" y1="383.0" x2="442.1" y2="385.7" stroke="#6a4a35" stroke-width="0.7"/>
<line x1="449.0" y1="377.9" x2="449.0" y2="380.6" stroke="#6a4a35" stroke-width="0.7"/>
<line x1="453.2" y1="377.9" x2="453.2" y2="380.6" stroke="#6a4a35" stroke-width="0.7"/>
<line x1="458.6" y1="377.9" x2="458.6" y2="380.6" stroke="#6a4a35" stroke-width="0.7"/>
<line x1="464.0" y1="377.9" x2="464.0" y2="380.6" stroke="#6a4a35" stroke-width="0.7"/>
<line x1="471.4" y1="377.9" x2="471.4" y2="380.6" stroke="#6a4a35" stroke-width="0.7"/>
<line x1="476.5" y1="377.9" x2="476.5" y2="380.6" stroke="#6a4a35" stroke-width="0.7"/>
<line x1="484.4" y1="377.9" x2="484.4" y2="380.6" stroke="#6a4a35" stroke-width="0.7"/>
<line x1="487.9" y1="377.9" x2="487.9" y2="380.6" stroke="#6a4a35" stroke-width="0.7"/>
<line x1="492.2" y1="377.9" x2="492.2" y2="380.6" stroke="#6a4a35" stroke-width="0.7"/>
<line x1="499.3" y1="377.9" x2="499.3" y2="380.6" stroke="#6a4a35" stroke-width="0.7"/>
<line x1="503.0" y1="377.9" x2="503.0" y2="380.6" stroke="#6a4a35" stroke-width="0.7"/>
<path d="M303.8,406.3 L308.7,404.2 L313.0,402.3 L317.3,400.6 L321.6,398.5 L326.0,396.4 L330.3,394.6 L334.6,393.0 L338.9,392.0 L345.0,390.8 L348.7,389.8 L353.3,388.6 L358.3,387.5 L362.3,387.1 L368.1,386.0 L372.7,384.8 L376.2,381.9 L381.9,380.8 L388.8,379.6 L395.8,378.5 L401.5,377.2 L447.9,377.2 L447.9,374.2 L475.5,374.2 L475.5,367.7 L508.7,367.7" fill="none" stroke="#962f45" stroke-width="1.15" stroke-linejoin="miter"/>
<line x1="305.9" y1="403.0" x2="305.9" y2="405.7" stroke="#5a2a38" stroke-width="0.7"/>
<line x1="307.8" y1="402.2" x2="307.8" y2="404.9" stroke="#5a2a38" stroke-width="0.7"/>
<line x1="309.1" y1="401.6" x2="309.1" y2="404.3" stroke="#5a2a38" stroke-width="0.7"/>
<line x1="310.8" y1="400.9" x2="310.8" y2="403.6" stroke="#5a2a38" stroke-width="0.7"/>
<line x1="312.8" y1="400.0" x2="312.8" y2="402.7" stroke="#5a2a38" stroke-width="0.7"/>
<line x1="313.7" y1="399.6" x2="313.7" y2="402.3" stroke="#5a2a38" stroke-width="0.7"/>
<line x1="315.2" y1="399.0" x2="315.2" y2="401.7" stroke="#5a2a38" stroke-width="0.7"/>
<line x1="316.7" y1="398.4" x2="316.7" y2="401.1" stroke="#5a2a38" stroke-width="0.7"/>
<line x1="318.5" y1="397.6" x2="318.5" y2="400.3" stroke="#5a2a38" stroke-width="0.7"/>
<line x1="319.2" y1="397.3" x2="319.2" y2="400.0" stroke="#5a2a38" stroke-width="0.7"/>
<line x1="320.7" y1="396.5" x2="320.7" y2="399.2" stroke="#5a2a38" stroke-width="0.7"/>
<line x1="321.3" y1="396.2" x2="321.3" y2="398.9" stroke="#5a2a38" stroke-width="0.7"/>
<line x1="322.7" y1="395.6" x2="322.7" y2="398.3" stroke="#5a2a38" stroke-width="0.7"/>
<line x1="323.7" y1="395.1" x2="323.7" y2="397.8" stroke="#5a2a38" stroke-width="0.7"/>
<line x1="325.6" y1="394.2" x2="325.6" y2="396.9" stroke="#5a2a38" stroke-width="0.7"/>
<line x1="327.5" y1="393.4" x2="327.5" y2="396.1" stroke="#5a2a38" stroke-width="0.7"/>
<line x1="329.4" y1="392.6" x2="329.4" y2="395.3" stroke="#5a2a38" stroke-width="0.7"/>
<line x1="330.5" y1="392.1" x2="330.5" y2="394.8" stroke="#5a2a38" stroke-width="0.7"/>
<line x1="331.7" y1="391.7" x2="331.7" y2="394.4" stroke="#5a2a38" stroke-width="0.7"/>
<line x1="332.6" y1="391.3" x2="332.6" y2="394.0" stroke="#5a2a38" stroke-width="0.7"/>
<line x1="334.3" y1="390.7" x2="334.3" y2="393.4" stroke="#5a2a38" stroke-width="0.7"/>
<line x1="335.8" y1="390.3" x2="335.8" y2="393.0" stroke="#5a2a38" stroke-width="0.7"/>
<line x1="336.7" y1="390.1" x2="336.7" y2="392.8" stroke="#5a2a38" stroke-width="0.7"/>
<line x1="337.8" y1="389.9" x2="337.8" y2="392.6" stroke="#5a2a38" stroke-width="0.7"/>
<line x1="339.0" y1="389.6" x2="339.0" y2="392.3" stroke="#5a2a38" stroke-width="0.7"/>
<line x1="339.6" y1="389.5" x2="339.6" y2="392.2" stroke="#5a2a38" stroke-width="0.7"/>
<line x1="341.1" y1="389.2" x2="341.1" y2="391.9" stroke="#5a2a38" stroke-width="0.7"/>
<line x1="342.5" y1="388.9" x2="342.5" y2="391.6" stroke="#5a2a38" stroke-width="0.7"/>
<line x1="343.9" y1="388.6" x2="343.9" y2="391.3" stroke="#5a2a38" stroke-width="0.7"/>
<line x1="345.3" y1="388.3" x2="345.3" y2="391.0" stroke="#5a2a38" stroke-width="0.7"/>
<line x1="346.2" y1="388.1" x2="346.2" y2="390.8" stroke="#5a2a38" stroke-width="0.7"/>
<line x1="348.1" y1="387.6" x2="348.1" y2="390.3" stroke="#5a2a38" stroke-width="0.7"/>
<line x1="349.4" y1="387.2" x2="349.4" y2="389.9" stroke="#5a2a38" stroke-width="0.7"/>
<line x1="350.6" y1="386.9" x2="350.6" y2="389.6" stroke="#5a2a38" stroke-width="0.7"/>
<line x1="352.3" y1="386.5" x2="352.3" y2="389.2" stroke="#5a2a38" stroke-width="0.7"/>
<line x1="353.6" y1="386.1" x2="353.6" y2="388.8" stroke="#5a2a38" stroke-width="0.7"/>
<line x1="355.1" y1="385.8" x2="355.1" y2="388.5" stroke="#5a2a38" stroke-width="0.7"/>
<line x1="356.6" y1="385.5" x2="356.6" y2="388.2" stroke="#5a2a38" stroke-width="0.7"/>
<line x1="357.8" y1="385.2" x2="357.8" y2="387.9" stroke="#5a2a38" stroke-width="0.7"/>
<line x1="359.3" y1="385.0" x2="359.3" y2="387.7" stroke="#5a2a38" stroke-width="0.7"/>
<line x1="361.6" y1="384.8" x2="361.6" y2="387.5" stroke="#5a2a38" stroke-width="0.7"/>
<line x1="362.7" y1="384.6" x2="362.7" y2="387.3" stroke="#5a2a38" stroke-width="0.7"/>
<line x1="364.1" y1="384.3" x2="364.1" y2="387.0" stroke="#5a2a38" stroke-width="0.7"/>
<line x1="366.0" y1="384.0" x2="366.0" y2="386.7" stroke="#5a2a38" stroke-width="0.7"/>
<line x1="367.5" y1="383.7" x2="367.5" y2="386.4" stroke="#5a2a38" stroke-width="0.7"/>
<line x1="368.7" y1="383.4" x2="368.7" y2="386.1" stroke="#5a2a38" stroke-width="0.7"/>
<line x1="369.6" y1="383.2" x2="369.6" y2="385.9" stroke="#5a2a38" stroke-width="0.7"/>
<line x1="371.3" y1="382.8" x2="371.3" y2="385.5" stroke="#5a2a38" stroke-width="0.7"/>
<line x1="373.2" y1="382.0" x2="373.2" y2="384.7" stroke="#5a2a38" stroke-width="0.7"/>
<line x1="374.5" y1="380.9" x2="374.5" y2="383.6" stroke="#5a2a38" stroke-width="0.7"/>
<line x1="376.5" y1="379.4" x2="376.5" y2="382.1" stroke="#5a2a38" stroke-width="0.7"/>
<line x1="377.6" y1="379.2" x2="377.6" y2="381.9" stroke="#5a2a38" stroke-width="0.7"/>
<line x1="378.7" y1="379.0" x2="378.7" y2="381.7" stroke="#5a2a38" stroke-width="0.7"/>
<line x1="379.7" y1="378.8" x2="379.7" y2="381.5" stroke="#5a2a38" stroke-width="0.7"/>
<line x1="381.5" y1="378.5" x2="381.5" y2="381.2" stroke="#5a2a38" stroke-width="0.7"/>
<line x1="383.9" y1="378.1" x2="383.9" y2="380.8" stroke="#5a2a38" stroke-width="0.7"/>
<line x1="384.8" y1="377.9" x2="384.8" y2="380.6" stroke="#5a2a38" stroke-width="0.7"/>
<line x1="385.5" y1="377.8" x2="385.5" y2="380.5" stroke="#5a2a38" stroke-width="0.7"/>
<line x1="386.4" y1="377.6" x2="386.4" y2="380.3" stroke="#5a2a38" stroke-width="0.7"/>
<line x1="388.1" y1="377.3" x2="388.1" y2="380.0" stroke="#5a2a38" stroke-width="0.7"/>
<line x1="390.3" y1="377.0" x2="390.3" y2="379.7" stroke="#5a2a38" stroke-width="0.7"/>
<line x1="390.8" y1="376.9" x2="390.8" y2="379.6" stroke="#5a2a38" stroke-width="0.7"/>
<line x1="391.9" y1="376.7" x2="391.9" y2="379.4" stroke="#5a2a38" stroke-width="0.7"/>
<line x1="393.1" y1="376.5" x2="393.1" y2="379.2" stroke="#5a2a38" stroke-width="0.7"/>
<line x1="394.8" y1="376.3" x2="394.8" y2="379.0" stroke="#5a2a38" stroke-width="0.7"/>
<line x1="395.6" y1="376.1" x2="395.6" y2="378.8" stroke="#5a2a38" stroke-width="0.7"/>
<line x1="397.3" y1="375.8" x2="397.3" y2="378.5" stroke="#5a2a38" stroke-width="0.7"/>
<line x1="398.5" y1="375.5" x2="398.5" y2="378.2" stroke="#5a2a38" stroke-width="0.7"/>
<line x1="399.6" y1="375.2" x2="399.6" y2="377.9" stroke="#5a2a38" stroke-width="0.7"/>
<line x1="400.7" y1="375.0" x2="400.7" y2="377.7" stroke="#5a2a38" stroke-width="0.7"/>
<line x1="402.5" y1="374.8" x2="402.5" y2="377.5" stroke="#5a2a38" stroke-width="0.7"/>
<line x1="404.1" y1="374.8" x2="404.1" y2="377.5" stroke="#5a2a38" stroke-width="0.7"/>
<line x1="404.8" y1="374.8" x2="404.8" y2="377.5" stroke="#5a2a38" stroke-width="0.7"/>
<line x1="410.7" y1="374.8" x2="410.7" y2="377.5" stroke="#5a2a38" stroke-width="0.7"/>
<line x1="418.5" y1="374.8" x2="418.5" y2="377.5" stroke="#5a2a38" stroke-width="0.7"/>
<line x1="425.0" y1="374.8" x2="425.0" y2="377.5" stroke="#5a2a38" stroke-width="0.7"/>
<line x1="436.0" y1="374.8" x2="436.0" y2="377.5" stroke="#5a2a38" stroke-width="0.7"/>
<line x1="442.0" y1="374.8" x2="442.0" y2="377.5" stroke="#5a2a38" stroke-width="0.7"/>
<line x1="449.7" y1="371.8" x2="449.7" y2="374.5" stroke="#5a2a38" stroke-width="0.7"/>
<line x1="460.1" y1="371.8" x2="460.1" y2="374.5" stroke="#5a2a38" stroke-width="0.7"/>
<line x1="466.3" y1="371.8" x2="466.3" y2="374.5" stroke="#5a2a38" stroke-width="0.7"/>
<line x1="472.4" y1="371.8" x2="472.4" y2="374.5" stroke="#5a2a38" stroke-width="0.7"/>
<line x1="477.3" y1="365.3" x2="477.3" y2="368.0" stroke="#5a2a38" stroke-width="0.7"/>
<line x1="487.5" y1="365.3" x2="487.5" y2="368.0" stroke="#5a2a38" stroke-width="0.7"/>
<line x1="493.1" y1="365.3" x2="493.1" y2="368.0" stroke="#5a2a38" stroke-width="0.7"/>
<line x1="501.8" y1="365.3" x2="501.8" y2="368.0" stroke="#5a2a38" stroke-width="0.7"/>
<text x="211.79" y="454.80" font-size="8.58" fill="#222" stroke="#222" stroke-width="0.08" textLength="94.91" lengthAdjust="spacingAndGlyphs">HR in Comparison to NR</text>
<rect x="42.9" y="459.5" width="434.90" height="82.90" fill="none" stroke="#2e2e2e" stroke-width="1.25"/>
<line x1="130.80" y1="459.50" x2="130.80" y2="542.40" stroke="#2e2e2e" stroke-width="1.2"/>
<line x1="250.80" y1="459.50" x2="250.80" y2="542.40" stroke="#2e2e2e" stroke-width="1.2"/>
<line x1="360.10" y1="459.50" x2="360.10" y2="542.40" stroke="#2e2e2e" stroke-width="1.2"/>
<line x1="42.90" y1="492.70" x2="477.80" y2="492.70" stroke="#2e2e2e" stroke-width="1.2"/>
<line x1="42.90" y1="509.40" x2="477.80" y2="509.40" stroke="#2e2e2e" stroke-width="1.2"/>
<line x1="42.90" y1="526.10" x2="477.80" y2="526.10" stroke="#2e2e2e" stroke-width="1.2"/>
<text x="151.98" y="473.80" font-size="8.87" fill="#2a2a2a" stroke="#2a2a2a" stroke-width="0.06" textLength="77.12" lengthAdjust="spacingAndGlyphs">Febrile Neutropenia</text>
<text x="167.23" y="483.60" font-size="8.72" fill="#2a2a2a" stroke="#2a2a2a" stroke-width="0.06" textLength="45.97" lengthAdjust="spacingAndGlyphs">HR (95% CI)</text>
<text x="274.61" y="473.80" font-size="8.87" fill="#2a2a2a" stroke="#2a2a2a" stroke-width="0.06" textLength="61.84" lengthAdjust="spacingAndGlyphs">Severe Infection</text>
<text x="282.23" y="483.60" font-size="8.72" fill="#2a2a2a" stroke="#2a2a2a" stroke-width="0.06" textLength="45.97" lengthAdjust="spacingAndGlyphs">HR (95% CI)</text>
<text x="387.91" y="473.80" font-size="8.87" fill="#2a2a2a" stroke="#2a2a2a" stroke-width="0.06" textLength="62.64" lengthAdjust="spacingAndGlyphs">Severe Bleeding</text>
<text x="396.13" y="483.60" font-size="8.72" fill="#2a2a2a" stroke="#2a2a2a" stroke-width="0.06" textLength="46.17" lengthAdjust="spacingAndGlyphs">HR (95% CI)</text>
<text x="66.69" y="503.70" font-size="8.72" fill="#2a2a2a" stroke="#2a2a2a" stroke-width="0.06" textLength="35.78" lengthAdjust="spacingAndGlyphs">CR vs NR</text>
<text x="65.79" y="520.10" font-size="8.72" fill="#2a2a2a" stroke="#2a2a2a" stroke-width="0.06" textLength="39.98" lengthAdjust="spacingAndGlyphs">CRh vs NR</text>
<text x="67.00" y="536.60" font-size="8.72" fill="#2a2a2a" stroke="#2a2a2a" stroke-width="0.06" textLength="39.67" lengthAdjust="spacingAndGlyphs">CRL vs NR</text>
<text x="158.07" y="503.50" font-size="8.72" fill="#2a2a2a" stroke="#2a2a2a" stroke-width="0.06" textLength="62.87" lengthAdjust="spacingAndGlyphs">0.43 (0.29, 0.64)</text>
<text x="224.4" y="502.9" font-size="7.5" text-anchor="middle" fill="#1e1e1e">*</text>
<text x="271.37" y="503.50" font-size="8.72" fill="#2a2a2a" stroke="#2a2a2a" stroke-width="0.06" textLength="61.24" lengthAdjust="spacingAndGlyphs">0.24 (0.17, 0.26)</text>
<text x="337.1" y="502.9" font-size="7.5" text-anchor="middle" fill="#1e1e1e">*</text>
<text x="384.77" y="503.50" font-size="8.72" fill="#2a2a2a" stroke="#2a2a2a" stroke-width="0.06" textLength="62.56" lengthAdjust="spacingAndGlyphs">0.20 (0.09, 0.44)</text>
<text x="451.3" y="502.9" font-size="7.5" text-anchor="middle" fill="#1e1e1e">*</text>
<text x="159.67" y="520.30" font-size="8.72" fill="#2a2a2a" stroke="#2a2a2a" stroke-width="0.06" textLength="62.56" lengthAdjust="spacingAndGlyphs">0.53 (0.31, 0.93)</text>
<text x="271.07" y="520.30" font-size="8.72" fill="#2a2a2a" stroke="#2a2a2a" stroke-width="0.06" textLength="61.55" lengthAdjust="spacingAndGlyphs">0.42 (0.26, 0.70)</text>
<text x="337.3" y="517.7" font-size="6.8" text-anchor="middle" fill="#1e1e1e">+</text>
<text x="388.07" y="520.30" font-size="8.72" fill="#2a2a2a" stroke="#2a2a2a" stroke-width="0.06" textLength="62.26" lengthAdjust="spacingAndGlyphs">0.09 (0.01, 0.66)</text>
<text x="159.67" y="536.80" font-size="8.72" fill="#2a2a2a" stroke="#2a2a2a" stroke-width="0.06" textLength="62.56" lengthAdjust="spacingAndGlyphs">0.71 (0.51, 0.98)</text>
<text x="274.67" y="536.80" font-size="8.72" fill="#2a2a2a" stroke="#2a2a2a" stroke-width="0.06" textLength="61.75" lengthAdjust="spacingAndGlyphs">0.78 (0.59, 1.03)</text>
<text x="388.07" y="536.80" font-size="8.72" fill="#2a2a2a" stroke="#2a2a2a" stroke-width="0.06" textLength="62.26" lengthAdjust="spacingAndGlyphs">0.57 (0.32, 1.04)</text>
<text x="46.66" y="556.40" font-size="8.65" fill="#222" stroke="#222" stroke-width="0.08" textLength="302.22" lengthAdjust="spacingAndGlyphs">* <tspan font-style="italic">P</tspan> &lt; .0001, <tspan dy="-2.6" font-size="6.2">+</tspan><tspan dy="2.6"> </tspan><tspan font-style="italic">P</tspan> &lt; .01 adjusted for drug and baseline transfusion independence</text>
</svg>
</body></html>
